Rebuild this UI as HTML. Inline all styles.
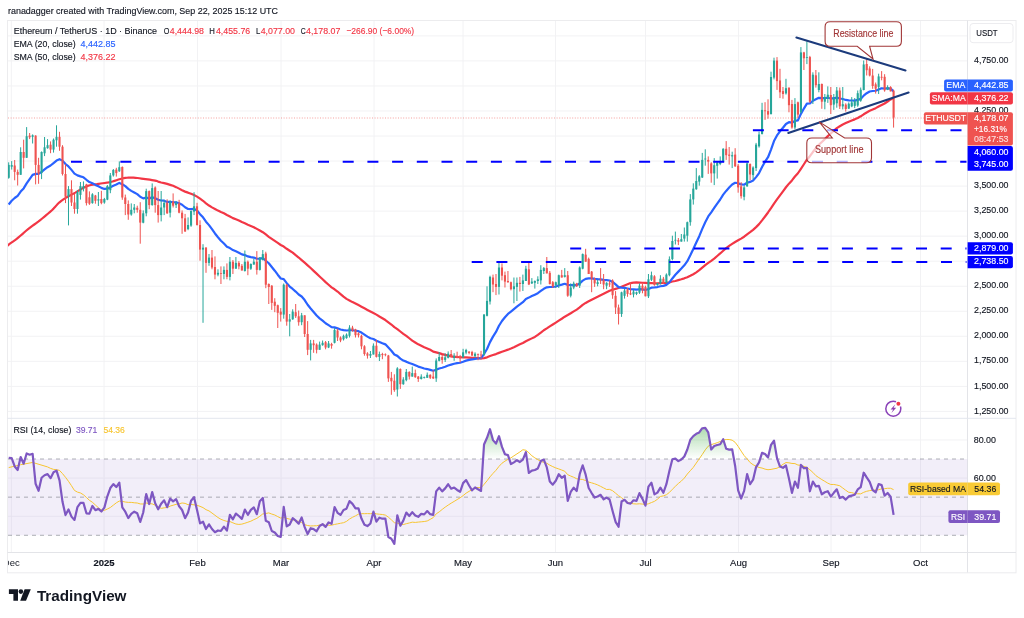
<!DOCTYPE html>
<html><head><meta charset="utf-8"><style>
html,body{margin:0;padding:0;background:#fff;}
body{width:1024px;height:618px;position:relative;overflow:hidden;font-family:"Liberation Sans", sans-serif;color:#131722;-webkit-font-smoothing:antialiased;}
svg{will-change:transform;}
.t{position:absolute;white-space:nowrap;font-size:9px;line-height:1;}
</style></head><body>
<svg width="1024" height="618" viewBox="0 0 1024 618" style="position:absolute;left:0;top:0">
<defs><clipPath id="cm"><rect x="8" y="21" width="959.5" height="397.3"/></clipPath><clipPath id="ct"><rect x="8" y="553" width="959" height="19"/></clipPath><clipPath id="cr"><rect x="8" y="418.8" width="959.5" height="133.2"/></clipPath></defs>
<line x1="11.3" y1="21" x2="11.3" y2="552.5" stroke="#f2f2f4" stroke-width="1"/>
<line x1="104" y1="21" x2="104" y2="552.5" stroke="#f2f2f4" stroke-width="1"/>
<line x1="197.5" y1="21" x2="197.5" y2="552.5" stroke="#f2f2f4" stroke-width="1"/>
<line x1="281" y1="21" x2="281" y2="552.5" stroke="#f2f2f4" stroke-width="1"/>
<line x1="374" y1="21" x2="374" y2="552.5" stroke="#f2f2f4" stroke-width="1"/>
<line x1="463" y1="21" x2="463" y2="552.5" stroke="#f2f2f4" stroke-width="1"/>
<line x1="555.5" y1="21" x2="555.5" y2="552.5" stroke="#f2f2f4" stroke-width="1"/>
<line x1="645.5" y1="21" x2="645.5" y2="552.5" stroke="#f2f2f4" stroke-width="1"/>
<line x1="738.5" y1="21" x2="738.5" y2="552.5" stroke="#f2f2f4" stroke-width="1"/>
<line x1="831" y1="21" x2="831" y2="552.5" stroke="#f2f2f4" stroke-width="1"/>
<line x1="920.5" y1="21" x2="920.5" y2="552.5" stroke="#f2f2f4" stroke-width="1"/>
<line x1="8" y1="411.39" x2="967.5" y2="411.39" stroke="#f2f2f4" stroke-width="1"/>
<line x1="8" y1="386.36" x2="967.5" y2="386.36" stroke="#f2f2f4" stroke-width="1"/>
<line x1="8" y1="361.32" x2="967.5" y2="361.32" stroke="#f2f2f4" stroke-width="1"/>
<line x1="8" y1="336.28" x2="967.5" y2="336.28" stroke="#f2f2f4" stroke-width="1"/>
<line x1="8" y1="311.25" x2="967.5" y2="311.25" stroke="#f2f2f4" stroke-width="1"/>
<line x1="8" y1="286.22" x2="967.5" y2="286.22" stroke="#f2f2f4" stroke-width="1"/>
<line x1="8" y1="261.18" x2="967.5" y2="261.18" stroke="#f2f2f4" stroke-width="1"/>
<line x1="8" y1="236.15" x2="967.5" y2="236.15" stroke="#f2f2f4" stroke-width="1"/>
<line x1="8" y1="211.11" x2="967.5" y2="211.11" stroke="#f2f2f4" stroke-width="1"/>
<line x1="8" y1="186.08" x2="967.5" y2="186.08" stroke="#f2f2f4" stroke-width="1"/>
<line x1="8" y1="161.04" x2="967.5" y2="161.04" stroke="#f2f2f4" stroke-width="1"/>
<line x1="8" y1="136" x2="967.5" y2="136" stroke="#f2f2f4" stroke-width="1"/>
<line x1="8" y1="110.97" x2="967.5" y2="110.97" stroke="#f2f2f4" stroke-width="1"/>
<line x1="8" y1="85.94" x2="967.5" y2="85.94" stroke="#f2f2f4" stroke-width="1"/>
<line x1="8" y1="60.9" x2="967.5" y2="60.9" stroke="#f2f2f4" stroke-width="1"/>
<line x1="8" y1="35.86" x2="967.5" y2="35.86" stroke="#f2f2f4" stroke-width="1"/>
<line x1="8" y1="516.22" x2="967.5" y2="516.22" stroke="#f2f2f4" stroke-width="1"/>
<line x1="8" y1="478.08" x2="967.5" y2="478.08" stroke="#f2f2f4" stroke-width="1"/>
<line x1="8" y1="439.94" x2="967.5" y2="439.94" stroke="#f2f2f4" stroke-width="1"/>
<rect x="7.5" y="20.5" width="1008.5" height="552.3" fill="none" stroke="#ececee" stroke-width="1"/>
<line x1="967.5" y1="20.5" x2="967.5" y2="572.5" stroke="#e3e4e8"/>
<line x1="7.5" y1="418.3" x2="1016" y2="418.3" stroke="#e3e6ee"/>
<line x1="7.5" y1="552.5" x2="1016" y2="552.5" stroke="#e3e4e8"/>
<g clip-path="url(#cm)">
<line x1="8" y1="118" x2="967.5" y2="118" stroke="#EF5350" stroke-width="1" stroke-dasharray="1 1.6" stroke-opacity="0.55"/>
<polyline fill="none" stroke="#F23645" stroke-width="2.2" stroke-linejoin="round" points="5,250.5 5.25,249.95 5.53,249.2 5.9,248.3 6.39,247.31 7.04,246.3 7.9,245.3 8.99,244.34 10.29,243.39 11.75,242.4 13.33,241.34 15,240.19 16.7,238.9 18.48,237.43 20.38,235.79 22.36,234.05 24.39,232.28 26.41,230.54 28.4,228.9 30.36,227.38 32.33,225.92 34.3,224.49 36.27,223.07 38.24,221.62 40.2,220.1 42.18,218.51 44.19,216.86 46.2,215.19 48.17,213.5 50.08,211.83 51.9,210.2 53.55,208.59 55.03,206.99 56.46,205.39 57.91,203.83 59.49,202.29 61.3,200.8 63.39,199.34 65.71,197.91 68.16,196.52 70.63,195.16 73.05,193.85 75.3,192.6 77.38,191.37 79.37,190.15 81.29,188.98 83.18,187.89 85.07,186.92 87,186.1 88.96,185.47 90.93,185 92.9,184.66 94.87,184.37 96.84,184.11 98.8,183.8 100.76,183.49 102.71,183.23 104.66,182.98 106.6,182.71 108.55,182.39 110.5,182 112.48,181.48 114.48,180.86 116.49,180.19 118.46,179.54 120.38,178.95 122.2,178.5 123.89,178.18 125.45,177.93 126.95,177.76 128.45,177.65 130.01,177.6 131.7,177.6 133.52,177.67 135.43,177.82 137.41,178.03 139.41,178.28 141.42,178.54 143.4,178.8 145.46,179.07 147.65,179.39 149.84,179.71 151.91,180.04 153.73,180.34 155.19,180.6 156.23,180.83 156.94,181.04 157.42,181.22 157.73,181.38 157.95,181.51 158.17,181.61 161.16,182.46 164.15,183.07 167.14,183.84 170.13,184.84 173.12,185.79 176.11,187.13 179.1,188.63 182.09,190.29 185.08,191.62 188.07,192.65 191.06,193.83 194.05,195.01 197.04,196.61 200.03,198.61 203.02,200.77 206.01,203.29 209,205.51 211.99,207.38 214.98,208.93 217.97,210.61 220.95,212.03 223.94,213.25 226.93,214.95 229.92,216.46 232.91,218.11 235.9,219.31 238.89,220.56 241.88,222.09 244.87,223.31 247.86,224.69 250.85,225.91 253.84,227.17 256.83,228.84 259.82,230.49 262.81,232.17 265.8,234.4 268.79,236.8 271.78,238.9 274.77,240.94 277.75,242.91 280.74,245 283.73,246.55 286.72,248.78 289.71,250.72 292.7,252.68 295.69,255.19 298.68,257.53 301.67,260.07 304.66,262.65 307.65,265.34 310.64,268.06 313.63,270.91 316.62,273.64 319.61,276.5 322.6,279.24 325.59,282.14 328.58,284.75 331.57,287.3 334.56,289.27 337.55,291.52 340.53,294.11 343.52,296.7 346.51,298.89 349.5,300.45 352.49,302.11 355.48,303.55 358.47,305.1 361.46,306.68 364.45,308.27 367.44,309.93 370.43,311.53 373.42,313.05 376.41,314.65 379.4,316.49 382.39,318.22 385.38,320.06 388.37,322.3 391.36,324.52 394.35,327.09 397.33,329.08 400.32,331.49 403.31,333.84 406.3,335.88 409.29,338.26 412.28,340.64 415.27,342.49 418.26,344.33 421.25,345.81 424.24,347.23 427.23,348.47 430.22,349.74 433.21,351.61 436.2,352.39 439.19,353.14 442.18,354.11 445.17,354.93 448.16,355.56 451.15,356.39 454.14,356.82 457.12,356.97 460.11,357.27 463.1,357.42 466.09,357.42 469.08,357.59 472.07,357.84 475.06,357.96 478.05,358.19 481.04,358.38 484.03,358.08 487.02,357.34 490.01,356.07 493,355.05 495.99,354.09 498.98,352.89 501.97,351.79 504.96,350.72 507.95,349.66 510.94,348.52 513.93,347.17 516.92,345.71 519.9,344.31 522.89,343 525.88,341.24 528.87,339.85 531.86,338.38 534.85,336.9 537.84,334.91 540.83,332.69 543.82,330.25 546.81,328.35 549.8,326.34 552.79,324.48 555.78,322.68 558.77,320.66 561.76,318.74 564.75,316.7 567.74,315.04 570.73,313.26 573.72,311.38 576.71,309.61 579.69,307.4 582.68,304.92 585.67,302.94 588.66,301.28 591.65,299.66 594.64,298.18 597.63,296.75 600.62,295.22 603.61,293.8 606.6,292.31 609.59,290.83 612.58,289.69 615.57,288.84 618.56,288.06 621.55,286.8 624.54,285.53 627.53,284.32 630.52,283.1 633.51,282.64 636.5,282.47 639.48,282.64 642.47,282.76 645.46,282.95 648.45,283.18 651.44,283.17 654.43,283.24 657.42,283.27 660.41,283.06 663.4,282.99 666.39,282.82 669.38,282.33 672.37,281.54 675.36,280.96 678.35,280.11 681.34,279.26 684.33,278.33 687.32,277.19 690.31,275.78 693.3,274.19 696.29,272.34 699.27,270.18 702.26,267.66 705.25,265.19 708.24,262.91 711.23,260.83 714.22,258.63 717.21,255.97 720.2,253.45 723.19,250.75 726.18,248.13 729.17,245.9 732.16,243.92 735.15,242.01 738.14,240.28 741.13,238.63 744.12,236.71 747.11,234.33 750.1,232.22 753.09,229.88 756.08,227.11 759.06,224.11 762.05,220.41 765.04,216.48 768.03,212.49 771.02,208.18 774.01,203.59 777,199.33 779.99,195.29 782.98,191.33 785.97,187.25 788.96,183.64 791.95,180.39 794.94,176.54 797.93,173.25 800.92,168.79 803.91,164.26 806.9,159.73 809.89,156.19 812.88,152.03 815.87,148.24 818.85,144.73 821.84,141.95 824.83,139.09 827.82,136.15 830.81,133.47 833.8,130.74 836.79,128.1 839.78,126.24 842.77,124.55 845.76,123.11 848.75,121.66 851.74,120.51 854.73,119.36 857.72,117.99 860.71,116.32 863.7,114.3 866.69,112.45 869.68,110.74 872.67,109.48 875.66,108.15 878.64,106.57 881.63,105.02 884.62,103.5 887.61,101.49 890.6,99.39 893.59,98"/>
<polyline fill="none" stroke="#2962FF" stroke-width="2.2" stroke-linejoin="round" points="8.7,204.5 11.69,200.75 14.68,198 17.67,195.79 20.66,191.62 23.65,188.4 26.64,183.43 29.63,179.03 32.62,174.87 35.61,173.92 38.59,173.9 41.58,171.81 44.57,169.48 47.56,167.17 50.55,165.49 53.54,163.04 56.53,160.54 59.52,159.22 62.51,160.63 65.5,164.06 68.49,166.45 71.48,169.88 74.47,173.61 77.46,175.36 80.45,176.38 83.44,177.31 86.43,179.76 89.42,182.04 92.41,183.21 95.4,184.89 98.39,186.26 101.37,187.86 104.36,188.92 107.35,188.65 110.34,187.39 113.33,185.74 116.32,184.53 119.31,182.88 122.3,184.27 125.29,186.15 128.28,188.85 131.27,190.85 134.26,192.43 137.25,194.09 140.24,196.8 143.23,198.37 146.22,197.68 149.21,198.39 152.2,197.41 155.19,198.14 158.17,199.76 161.16,200.49 164.15,200.71 167.14,201.91 170.13,201.88 173.12,202.25 176.11,202.3 179.1,203.29 182.09,204.72 185.08,207.26 188.07,208.95 191.06,209.14 194.05,208.87 197.04,210.41 200.03,214.14 203.02,217.34 206.01,221.68 209,225.1 211.99,229.14 214.98,233.47 217.97,237.21 220.95,240.7 223.94,243.48 226.93,246.66 229.92,248.09 232.91,250.06 235.9,251.28 238.89,252.72 241.88,254.41 244.87,255.11 247.86,256.4 250.85,257.13 253.84,257.56 256.83,258.74 259.82,258.63 262.81,258.2 265.8,260.72 268.79,263.22 271.78,267 274.77,270.7 277.75,274.71 280.74,278.51 283.73,279.1 286.72,283.14 289.71,286.59 292.7,288.97 295.69,291.57 298.68,294.49 301.67,296.47 304.66,300.05 307.65,304.78 310.64,308.46 313.63,311.96 316.62,315.56 319.61,318.33 322.6,320.66 325.59,323.22 328.58,325.14 331.57,327.1 334.56,327.36 337.55,328.33 340.53,329.49 343.52,330.09 346.51,330.52 349.5,330.24 352.49,330.27 355.48,330.74 358.47,331.16 361.46,332.6 364.45,334.64 367.44,336.65 370.43,338.3 373.42,339 376.41,340.71 379.4,341.97 382.39,343.22 385.38,344.36 388.37,347.6 391.36,350.81 394.35,354.55 397.33,355.87 400.32,358.57 403.31,360.56 406.3,361.64 409.29,363.07 412.28,364.02 415.27,365.28 418.26,366.58 421.25,367.54 424.24,368.46 427.23,369.06 430.22,369.89 433.21,370.7 436.2,369.73 439.19,368.52 442.18,367.7 445.17,366.71 448.16,365.47 451.15,364.63 454.14,363.79 457.12,363.17 460.11,362.72 463.1,361.73 466.09,360.61 469.08,359.88 472.07,359.46 475.06,358.91 478.05,358.5 481.04,358.21 484.03,354.05 487.02,348.99 490.01,342.12 493,336.64 495.99,331.9 498.98,325.77 501.97,321 504.96,317.25 507.95,313.91 510.94,311.55 513.93,309.15 516.92,306.64 519.9,304.48 522.89,302.19 525.88,299 528.87,297.62 531.86,296.09 534.85,294.66 537.84,293.19 540.83,290.98 543.82,288.8 546.81,287.33 549.8,287.01 552.79,286.95 555.78,286.49 558.77,285.42 561.76,284.66 564.75,283.76 567.74,284.9 570.73,285.15 573.72,284.98 576.71,285.11 579.69,283.43 582.68,280.64 585.67,278.83 588.66,278.37 591.65,278.4 594.64,278.88 597.63,279.2 600.62,279.31 603.61,279.8 606.6,280.09 609.59,280.51 612.58,281.91 615.57,284.35 618.56,287.17 621.55,287.66 624.54,287.93 627.53,288.5 630.52,289.07 633.51,289.31 636.5,289.59 639.48,289.22 642.47,289.33 645.46,289.99 648.45,288.97 651.44,287.66 654.43,287.42 657.42,287.04 660.41,286.24 663.4,285.91 666.39,284.84 669.38,282.4 672.37,278.46 675.36,274.78 678.35,271.62 681.34,268.53 684.33,265.29 687.32,261.19 690.31,255.3 693.3,248.95 696.29,242.48 699.27,236.18 702.26,228.91 705.25,222.22 708.24,216.45 711.23,212.35 714.22,207.86 717.21,203.57 720.2,199.52 723.19,194.69 726.18,190.93 729.17,187.59 732.16,184.5 735.15,182.77 738.14,183.21 741.13,184.45 744.12,184.73 747.11,182.7 750.1,181.92 753.09,180.54 756.08,177.12 759.06,173.06 762.05,167.05 765.04,161.72 768.03,157.23 771.02,149.59 774.01,141.11 777,135.4 779.99,131.29 782.98,127.74 785.97,123.98 788.96,122.19 791.95,122.69 794.94,120.92 797.93,120.32 800.92,113.85 803.91,108.56 806.9,103.66 809.89,103.47 812.88,100.73 815.87,99.25 818.85,97.8 821.84,98.17 824.83,98.06 827.82,97.74 830.81,98.45 833.8,98.37 836.79,97.62 839.78,98.46 842.77,99 845.76,99.96 848.75,100.31 851.74,100.51 854.73,100.57 857.72,99.87 860.71,98.9 863.7,95.62 866.69,93.2 869.68,91.51 872.67,90.99 875.66,90.77 878.64,89.4 881.63,88.29 884.62,88.49 887.61,88.35 890.6,88.64 893.59,91.39"/>
<line x1="8.7" y1="162.3" x2="8.7" y2="178.7" stroke="#26A69A" stroke-width="1"/>
<rect x="7.65" y="164.9" width="2.1" height="12.9" fill="#26A69A"/>
<line x1="11.69" y1="161.1" x2="11.69" y2="169.6" stroke="#26A69A" stroke-width="1"/>
<rect x="10.64" y="165.1" width="2.1" height="1.6" fill="#26A69A"/>
<line x1="14.68" y1="160" x2="14.68" y2="180.3" stroke="#EF5350" stroke-width="1"/>
<rect x="13.63" y="165.5" width="2.1" height="6.4" fill="#EF5350"/>
<line x1="17.67" y1="169.6" x2="17.67" y2="185.5" stroke="#EF5350" stroke-width="1"/>
<rect x="16.62" y="171.9" width="2.1" height="2.9" fill="#EF5350"/>
<line x1="20.66" y1="147.3" x2="20.66" y2="174.8" stroke="#26A69A" stroke-width="1"/>
<rect x="19.61" y="152" width="2.1" height="22.8" fill="#26A69A"/>
<line x1="23.65" y1="139.7" x2="23.65" y2="168.4" stroke="#EF5350" stroke-width="1"/>
<rect x="22.6" y="152" width="2.1" height="5.8" fill="#EF5350"/>
<line x1="26.64" y1="127.1" x2="26.64" y2="157.8" stroke="#26A69A" stroke-width="1"/>
<rect x="25.59" y="136.2" width="2.1" height="21.6" fill="#26A69A"/>
<line x1="29.63" y1="133" x2="29.63" y2="139.1" stroke="#EF5350" stroke-width="1"/>
<rect x="28.58" y="135.6" width="2.1" height="1.7" fill="#EF5350"/>
<line x1="32.62" y1="134.4" x2="32.62" y2="143.5" stroke="#26A69A" stroke-width="1"/>
<rect x="31.57" y="135.3" width="2.1" height="1.5" fill="#26A69A"/>
<line x1="35.61" y1="135.3" x2="35.61" y2="184.4" stroke="#EF5350" stroke-width="1"/>
<rect x="34.56" y="135.6" width="2.1" height="29.3" fill="#EF5350"/>
<line x1="38.59" y1="157.8" x2="38.59" y2="183.8" stroke="#EF5350" stroke-width="1"/>
<rect x="37.55" y="164.9" width="2.1" height="8.8" fill="#EF5350"/>
<line x1="41.58" y1="151.4" x2="41.58" y2="179.1" stroke="#26A69A" stroke-width="1"/>
<rect x="40.53" y="152" width="2.1" height="21.1" fill="#26A69A"/>
<line x1="44.57" y1="137" x2="44.57" y2="156.1" stroke="#26A69A" stroke-width="1"/>
<rect x="43.52" y="147.3" width="2.1" height="6" fill="#26A69A"/>
<line x1="47.56" y1="139.1" x2="47.56" y2="148.7" stroke="#26A69A" stroke-width="1"/>
<rect x="46.51" y="145.2" width="2.1" height="3" fill="#26A69A"/>
<line x1="50.55" y1="141.4" x2="50.55" y2="153.2" stroke="#EF5350" stroke-width="1"/>
<rect x="49.5" y="144.7" width="2.1" height="4.9" fill="#EF5350"/>
<line x1="53.54" y1="138.5" x2="53.54" y2="152.6" stroke="#26A69A" stroke-width="1"/>
<rect x="52.49" y="139.7" width="2.1" height="9.9" fill="#26A69A"/>
<line x1="56.53" y1="125.3" x2="56.53" y2="146.7" stroke="#26A69A" stroke-width="1"/>
<rect x="55.48" y="136.8" width="2.1" height="3.5" fill="#26A69A"/>
<line x1="59.52" y1="131.8" x2="59.52" y2="150.8" stroke="#EF5350" stroke-width="1"/>
<rect x="58.47" y="136.8" width="2.1" height="9.9" fill="#EF5350"/>
<line x1="62.51" y1="145.2" x2="62.51" y2="175.5" stroke="#EF5350" stroke-width="1"/>
<rect x="61.46" y="146.7" width="2.1" height="27.3" fill="#EF5350"/>
<line x1="65.5" y1="164.3" x2="65.5" y2="203.1" stroke="#EF5350" stroke-width="1"/>
<rect x="64.45" y="174" width="2.1" height="22.7" fill="#EF5350"/>
<line x1="68.49" y1="186.1" x2="68.49" y2="225.4" stroke="#26A69A" stroke-width="1"/>
<rect x="67.44" y="189.1" width="2.1" height="7" fill="#26A69A"/>
<line x1="71.48" y1="180.3" x2="71.48" y2="206" stroke="#EF5350" stroke-width="1"/>
<rect x="70.43" y="189.1" width="2.1" height="13.4" fill="#EF5350"/>
<line x1="74.47" y1="193.8" x2="74.47" y2="213.7" stroke="#EF5350" stroke-width="1"/>
<rect x="73.42" y="202.5" width="2.1" height="6.5" fill="#EF5350"/>
<line x1="77.46" y1="190.2" x2="77.46" y2="213.7" stroke="#26A69A" stroke-width="1"/>
<rect x="76.41" y="192" width="2.1" height="17" fill="#26A69A"/>
<line x1="80.45" y1="182" x2="80.45" y2="199.6" stroke="#26A69A" stroke-width="1"/>
<rect x="79.4" y="186.1" width="2.1" height="8.8" fill="#26A69A"/>
<line x1="83.44" y1="181.4" x2="83.44" y2="191.4" stroke="#26A69A" stroke-width="1"/>
<rect x="82.39" y="186.1" width="2.1" height="2.4" fill="#26A69A"/>
<line x1="86.43" y1="183.8" x2="86.43" y2="205.5" stroke="#EF5350" stroke-width="1"/>
<rect x="85.38" y="184.4" width="2.1" height="18.7" fill="#EF5350"/>
<line x1="89.42" y1="191.4" x2="89.42" y2="204.9" stroke="#EF5350" stroke-width="1"/>
<rect x="88.37" y="197.3" width="2.1" height="6.4" fill="#EF5350"/>
<line x1="92.41" y1="193.2" x2="92.41" y2="203.7" stroke="#26A69A" stroke-width="1"/>
<rect x="91.36" y="194.3" width="2.1" height="8.8" fill="#26A69A"/>
<line x1="95.4" y1="194.9" x2="95.4" y2="203.7" stroke="#EF5350" stroke-width="1"/>
<rect x="94.35" y="195.5" width="2.1" height="5.3" fill="#EF5350"/>
<line x1="98.39" y1="192" x2="98.39" y2="206" stroke="#26A69A" stroke-width="1"/>
<rect x="97.34" y="199.3" width="2.1" height="1.2" fill="#26A69A"/>
<line x1="101.37" y1="190.8" x2="101.37" y2="204.3" stroke="#EF5350" stroke-width="1"/>
<rect x="100.32" y="199" width="2.1" height="4.1" fill="#EF5350"/>
<line x1="104.36" y1="197.9" x2="104.36" y2="203.7" stroke="#26A69A" stroke-width="1"/>
<rect x="103.31" y="199" width="2.1" height="3.5" fill="#26A69A"/>
<line x1="107.35" y1="185" x2="107.35" y2="200.2" stroke="#26A69A" stroke-width="1"/>
<rect x="106.3" y="186.1" width="2.1" height="13.5" fill="#26A69A"/>
<line x1="110.34" y1="173" x2="110.34" y2="193.2" stroke="#26A69A" stroke-width="1"/>
<rect x="109.29" y="175.4" width="2.1" height="14.8" fill="#26A69A"/>
<line x1="113.33" y1="169" x2="113.33" y2="176.6" stroke="#26A69A" stroke-width="1"/>
<rect x="112.28" y="170" width="2.1" height="5.4" fill="#26A69A"/>
<line x1="116.32" y1="167.8" x2="116.32" y2="176.6" stroke="#EF5350" stroke-width="1"/>
<rect x="115.27" y="169.6" width="2.1" height="3.5" fill="#EF5350"/>
<line x1="119.31" y1="161.4" x2="119.31" y2="171.9" stroke="#26A69A" stroke-width="1"/>
<rect x="118.26" y="167.2" width="2.1" height="4.1" fill="#26A69A"/>
<line x1="122.3" y1="166.4" x2="122.3" y2="199.8" stroke="#EF5350" stroke-width="1"/>
<rect x="121.25" y="167" width="2.1" height="30.5" fill="#EF5350"/>
<line x1="125.29" y1="194.6" x2="125.29" y2="215.1" stroke="#EF5350" stroke-width="1"/>
<rect x="124.24" y="197.5" width="2.1" height="6.5" fill="#EF5350"/>
<line x1="128.28" y1="200.4" x2="128.28" y2="219.8" stroke="#EF5350" stroke-width="1"/>
<rect x="127.23" y="204" width="2.1" height="10.5" fill="#EF5350"/>
<line x1="131.27" y1="203.4" x2="131.27" y2="215.7" stroke="#26A69A" stroke-width="1"/>
<rect x="130.22" y="209.8" width="2.1" height="4.7" fill="#26A69A"/>
<line x1="134.26" y1="204" x2="134.26" y2="213.3" stroke="#26A69A" stroke-width="1"/>
<rect x="133.21" y="207.5" width="2.1" height="2.3" fill="#26A69A"/>
<line x1="137.25" y1="205.7" x2="137.25" y2="212.7" stroke="#EF5350" stroke-width="1"/>
<rect x="136.2" y="207.8" width="2.1" height="2" fill="#EF5350"/>
<line x1="140.24" y1="202.2" x2="140.24" y2="243.7" stroke="#EF5350" stroke-width="1"/>
<rect x="139.19" y="209.8" width="2.1" height="12.8" fill="#EF5350"/>
<line x1="143.23" y1="210.4" x2="143.23" y2="223.3" stroke="#26A69A" stroke-width="1"/>
<rect x="142.18" y="213.3" width="2.1" height="9.4" fill="#26A69A"/>
<line x1="146.22" y1="188.7" x2="146.22" y2="216.3" stroke="#26A69A" stroke-width="1"/>
<rect x="145.17" y="191.1" width="2.1" height="22.2" fill="#26A69A"/>
<line x1="149.21" y1="190.5" x2="149.21" y2="209.2" stroke="#EF5350" stroke-width="1"/>
<rect x="148.16" y="191.1" width="2.1" height="14" fill="#EF5350"/>
<line x1="152.2" y1="183.4" x2="152.2" y2="205.7" stroke="#26A69A" stroke-width="1"/>
<rect x="151.15" y="188.1" width="2.1" height="17" fill="#26A69A"/>
<line x1="155.19" y1="186.4" x2="155.19" y2="212.7" stroke="#EF5350" stroke-width="1"/>
<rect x="154.14" y="187.5" width="2.1" height="17.6" fill="#EF5350"/>
<line x1="158.17" y1="191" x2="158.17" y2="222.6" stroke="#EF5350" stroke-width="1"/>
<rect x="157.12" y="205.1" width="2.1" height="10" fill="#EF5350"/>
<line x1="161.16" y1="191" x2="161.16" y2="221.4" stroke="#26A69A" stroke-width="1"/>
<rect x="160.11" y="207.5" width="2.1" height="7.6" fill="#26A69A"/>
<line x1="164.15" y1="199.8" x2="164.15" y2="215.1" stroke="#26A69A" stroke-width="1"/>
<rect x="163.1" y="202.8" width="2.1" height="4.7" fill="#26A69A"/>
<line x1="167.14" y1="199.3" x2="167.14" y2="213.9" stroke="#EF5350" stroke-width="1"/>
<rect x="166.09" y="202.8" width="2.1" height="10.5" fill="#EF5350"/>
<line x1="170.13" y1="200.4" x2="170.13" y2="217.4" stroke="#26A69A" stroke-width="1"/>
<rect x="169.08" y="201.6" width="2.1" height="11.1" fill="#26A69A"/>
<line x1="173.12" y1="193.4" x2="173.12" y2="207.5" stroke="#EF5350" stroke-width="1"/>
<rect x="172.07" y="201.6" width="2.1" height="4.1" fill="#EF5350"/>
<line x1="176.11" y1="201" x2="176.11" y2="208" stroke="#26A69A" stroke-width="1"/>
<rect x="175.06" y="202.8" width="2.1" height="2.3" fill="#26A69A"/>
<line x1="179.1" y1="199.8" x2="179.1" y2="213.3" stroke="#EF5350" stroke-width="1"/>
<rect x="178.05" y="203.4" width="2.1" height="9.3" fill="#EF5350"/>
<line x1="182.09" y1="210.4" x2="182.09" y2="233.8" stroke="#EF5350" stroke-width="1"/>
<rect x="181.04" y="212.7" width="2.1" height="5.6" fill="#EF5350"/>
<line x1="185.08" y1="213.9" x2="185.08" y2="232" stroke="#EF5350" stroke-width="1"/>
<rect x="184.03" y="218.3" width="2.1" height="13.1" fill="#EF5350"/>
<line x1="188.07" y1="217.4" x2="188.07" y2="230.2" stroke="#26A69A" stroke-width="1"/>
<rect x="187.02" y="225" width="2.1" height="4.1" fill="#26A69A"/>
<line x1="191.06" y1="210.4" x2="191.06" y2="226.8" stroke="#26A69A" stroke-width="1"/>
<rect x="190.01" y="211" width="2.1" height="14.6" fill="#26A69A"/>
<line x1="194.05" y1="192.2" x2="194.05" y2="215.1" stroke="#26A69A" stroke-width="1"/>
<rect x="193" y="206.3" width="2.1" height="5.3" fill="#26A69A"/>
<line x1="197.04" y1="202.8" x2="197.04" y2="225.6" stroke="#EF5350" stroke-width="1"/>
<rect x="195.99" y="206.3" width="2.1" height="18.7" fill="#EF5350"/>
<line x1="200.03" y1="220.3" x2="200.03" y2="260.7" stroke="#EF5350" stroke-width="1"/>
<rect x="198.98" y="225" width="2.1" height="24.6" fill="#EF5350"/>
<line x1="203.02" y1="244.2" x2="203.02" y2="322.8" stroke="#26A69A" stroke-width="1"/>
<rect x="201.97" y="247.7" width="2.1" height="1.9" fill="#26A69A"/>
<line x1="206.01" y1="247" x2="206.01" y2="272.8" stroke="#EF5350" stroke-width="1"/>
<rect x="204.96" y="247.7" width="2.1" height="15.2" fill="#EF5350"/>
<line x1="209" y1="254" x2="209" y2="265.8" stroke="#26A69A" stroke-width="1"/>
<rect x="207.95" y="257.6" width="2.1" height="5.3" fill="#26A69A"/>
<line x1="211.99" y1="250" x2="211.99" y2="269.3" stroke="#EF5350" stroke-width="1"/>
<rect x="210.94" y="257.6" width="2.1" height="9.9" fill="#EF5350"/>
<line x1="214.98" y1="256.4" x2="214.98" y2="279.3" stroke="#EF5350" stroke-width="1"/>
<rect x="213.93" y="267" width="2.1" height="7.6" fill="#EF5350"/>
<line x1="217.97" y1="269.3" x2="217.97" y2="276.3" stroke="#26A69A" stroke-width="1"/>
<rect x="216.91" y="272.8" width="2.1" height="1.8" fill="#26A69A"/>
<line x1="220.95" y1="266.4" x2="220.95" y2="284" stroke="#EF5350" stroke-width="1"/>
<rect x="219.9" y="273.1" width="2.1" height="0.8" fill="#EF5350"/>
<line x1="223.94" y1="266.4" x2="223.94" y2="279.3" stroke="#26A69A" stroke-width="1"/>
<rect x="222.89" y="269.9" width="2.1" height="4.1" fill="#26A69A"/>
<line x1="226.93" y1="263.4" x2="226.93" y2="279.3" stroke="#EF5350" stroke-width="1"/>
<rect x="225.88" y="269.9" width="2.1" height="7" fill="#EF5350"/>
<line x1="229.92" y1="257" x2="229.92" y2="280.4" stroke="#26A69A" stroke-width="1"/>
<rect x="228.87" y="261.7" width="2.1" height="15.2" fill="#26A69A"/>
<line x1="232.91" y1="260" x2="232.91" y2="274" stroke="#EF5350" stroke-width="1"/>
<rect x="231.86" y="261.7" width="2.1" height="7" fill="#EF5350"/>
<line x1="235.9" y1="257" x2="235.9" y2="268.7" stroke="#26A69A" stroke-width="1"/>
<rect x="234.85" y="262.9" width="2.1" height="5.8" fill="#26A69A"/>
<line x1="238.89" y1="261.1" x2="238.89" y2="269.3" stroke="#EF5350" stroke-width="1"/>
<rect x="237.84" y="262.9" width="2.1" height="3.5" fill="#EF5350"/>
<line x1="241.88" y1="264" x2="241.88" y2="270.5" stroke="#EF5350" stroke-width="1"/>
<rect x="240.83" y="265.8" width="2.1" height="4.7" fill="#EF5350"/>
<line x1="244.87" y1="250.5" x2="244.87" y2="271.6" stroke="#26A69A" stroke-width="1"/>
<rect x="243.82" y="261.7" width="2.1" height="9.3" fill="#26A69A"/>
<line x1="247.86" y1="260.5" x2="247.86" y2="275.2" stroke="#EF5350" stroke-width="1"/>
<rect x="246.81" y="261.7" width="2.1" height="7" fill="#EF5350"/>
<line x1="250.85" y1="263.4" x2="250.85" y2="269.9" stroke="#26A69A" stroke-width="1"/>
<rect x="249.8" y="264" width="2.1" height="4.7" fill="#26A69A"/>
<line x1="253.84" y1="258.8" x2="253.84" y2="264.6" stroke="#26A69A" stroke-width="1"/>
<rect x="252.79" y="261.7" width="2.1" height="2.9" fill="#26A69A"/>
<line x1="256.83" y1="251.1" x2="256.83" y2="274.6" stroke="#EF5350" stroke-width="1"/>
<rect x="255.78" y="261.7" width="2.1" height="8.2" fill="#EF5350"/>
<line x1="259.82" y1="257" x2="259.82" y2="270.5" stroke="#26A69A" stroke-width="1"/>
<rect x="258.77" y="257.6" width="2.1" height="12.3" fill="#26A69A"/>
<line x1="262.81" y1="250" x2="262.81" y2="260.5" stroke="#26A69A" stroke-width="1"/>
<rect x="261.76" y="254.1" width="2.1" height="5.8" fill="#26A69A"/>
<line x1="265.8" y1="251.7" x2="265.8" y2="288.2" stroke="#EF5350" stroke-width="1"/>
<rect x="264.75" y="253.5" width="2.1" height="31.2" fill="#EF5350"/>
<line x1="268.79" y1="283.4" x2="268.79" y2="304" stroke="#EF5350" stroke-width="1"/>
<rect x="267.74" y="284" width="2.1" height="3" fill="#EF5350"/>
<line x1="271.78" y1="285.1" x2="271.78" y2="309.9" stroke="#EF5350" stroke-width="1"/>
<rect x="270.73" y="285.7" width="2.1" height="17.2" fill="#EF5350"/>
<line x1="274.77" y1="298.2" x2="274.77" y2="312.2" stroke="#EF5350" stroke-width="1"/>
<rect x="273.72" y="301.7" width="2.1" height="4.1" fill="#EF5350"/>
<line x1="277.75" y1="304.6" x2="277.75" y2="328" stroke="#EF5350" stroke-width="1"/>
<rect x="276.7" y="305.2" width="2.1" height="7.6" fill="#EF5350"/>
<line x1="280.74" y1="308.1" x2="280.74" y2="321.6" stroke="#EF5350" stroke-width="1"/>
<rect x="279.69" y="311.6" width="2.1" height="3" fill="#EF5350"/>
<line x1="283.73" y1="283.5" x2="283.73" y2="318.7" stroke="#26A69A" stroke-width="1"/>
<rect x="282.68" y="284.7" width="2.1" height="29.9" fill="#26A69A"/>
<line x1="286.72" y1="284.1" x2="286.72" y2="325.7" stroke="#EF5350" stroke-width="1"/>
<rect x="285.67" y="284.7" width="2.1" height="36.9" fill="#EF5350"/>
<line x1="289.71" y1="314" x2="289.71" y2="336.3" stroke="#26A69A" stroke-width="1"/>
<rect x="288.66" y="319.3" width="2.1" height="2.3" fill="#26A69A"/>
<line x1="292.7" y1="309.3" x2="292.7" y2="319.8" stroke="#26A69A" stroke-width="1"/>
<rect x="291.65" y="311.6" width="2.1" height="7.7" fill="#26A69A"/>
<line x1="295.69" y1="304" x2="295.69" y2="318" stroke="#EF5350" stroke-width="1"/>
<rect x="294.64" y="312.2" width="2.1" height="4.1" fill="#EF5350"/>
<line x1="298.68" y1="310.5" x2="298.68" y2="325.7" stroke="#EF5350" stroke-width="1"/>
<rect x="297.63" y="316.3" width="2.1" height="5.9" fill="#EF5350"/>
<line x1="301.67" y1="312.9" x2="301.67" y2="325.2" stroke="#26A69A" stroke-width="1"/>
<rect x="300.62" y="315.3" width="2.1" height="6.9" fill="#26A69A"/>
<line x1="304.66" y1="315.3" x2="304.66" y2="337" stroke="#EF5350" stroke-width="1"/>
<rect x="303.61" y="315.3" width="2.1" height="18.7" fill="#EF5350"/>
<line x1="307.65" y1="321.1" x2="307.65" y2="355.1" stroke="#EF5350" stroke-width="1"/>
<rect x="306.6" y="334" width="2.1" height="15.8" fill="#EF5350"/>
<line x1="310.64" y1="339.9" x2="310.64" y2="360.4" stroke="#26A69A" stroke-width="1"/>
<rect x="309.59" y="343.4" width="2.1" height="6.4" fill="#26A69A"/>
<line x1="313.63" y1="339.9" x2="313.63" y2="352.8" stroke="#EF5350" stroke-width="1"/>
<rect x="312.58" y="343.4" width="2.1" height="1.8" fill="#EF5350"/>
<line x1="316.62" y1="343.4" x2="316.62" y2="353.4" stroke="#EF5350" stroke-width="1"/>
<rect x="315.57" y="344.6" width="2.1" height="5.2" fill="#EF5350"/>
<line x1="319.61" y1="341.6" x2="319.61" y2="349.8" stroke="#26A69A" stroke-width="1"/>
<rect x="318.56" y="344.6" width="2.1" height="5.2" fill="#26A69A"/>
<line x1="322.6" y1="340.5" x2="322.6" y2="345.7" stroke="#26A69A" stroke-width="1"/>
<rect x="321.55" y="342.8" width="2.1" height="2.4" fill="#26A69A"/>
<line x1="325.59" y1="341" x2="325.59" y2="349.3" stroke="#EF5350" stroke-width="1"/>
<rect x="324.54" y="342.2" width="2.1" height="5.3" fill="#EF5350"/>
<line x1="328.58" y1="341" x2="328.58" y2="348.1" stroke="#26A69A" stroke-width="1"/>
<rect x="327.53" y="343.4" width="2.1" height="4.1" fill="#26A69A"/>
<line x1="331.57" y1="342.8" x2="331.57" y2="348.7" stroke="#EF5350" stroke-width="1"/>
<rect x="330.52" y="344" width="2.1" height="1.7" fill="#EF5350"/>
<line x1="334.56" y1="328.2" x2="334.56" y2="343.4" stroke="#26A69A" stroke-width="1"/>
<rect x="333.51" y="329.9" width="2.1" height="12.9" fill="#26A69A"/>
<line x1="337.55" y1="328.8" x2="337.55" y2="341" stroke="#EF5350" stroke-width="1"/>
<rect x="336.5" y="330.5" width="2.1" height="7" fill="#EF5350"/>
<line x1="340.53" y1="336.4" x2="340.53" y2="342.2" stroke="#EF5350" stroke-width="1"/>
<rect x="339.48" y="337.5" width="2.1" height="3" fill="#EF5350"/>
<line x1="343.52" y1="334.6" x2="343.52" y2="340.5" stroke="#26A69A" stroke-width="1"/>
<rect x="342.47" y="335.8" width="2.1" height="3.5" fill="#26A69A"/>
<line x1="346.51" y1="333.4" x2="346.51" y2="338.7" stroke="#26A69A" stroke-width="1"/>
<rect x="345.46" y="334.6" width="2.1" height="3.5" fill="#26A69A"/>
<line x1="349.5" y1="325.2" x2="349.5" y2="337.5" stroke="#26A69A" stroke-width="1"/>
<rect x="348.45" y="327.6" width="2.1" height="8.2" fill="#26A69A"/>
<line x1="352.49" y1="325.8" x2="352.49" y2="331.7" stroke="#EF5350" stroke-width="1"/>
<rect x="351.44" y="327.6" width="2.1" height="2.9" fill="#EF5350"/>
<line x1="355.48" y1="328.8" x2="355.48" y2="337.5" stroke="#EF5350" stroke-width="1"/>
<rect x="354.43" y="329.3" width="2.1" height="5.9" fill="#EF5350"/>
<line x1="358.47" y1="332.3" x2="358.47" y2="337.5" stroke="#EF5350" stroke-width="1"/>
<rect x="357.42" y="333.4" width="2.1" height="1.8" fill="#EF5350"/>
<line x1="361.46" y1="334.6" x2="361.46" y2="349.3" stroke="#EF5350" stroke-width="1"/>
<rect x="360.41" y="335.8" width="2.1" height="10.5" fill="#EF5350"/>
<line x1="364.45" y1="345.2" x2="364.45" y2="355.7" stroke="#EF5350" stroke-width="1"/>
<rect x="363.4" y="346.3" width="2.1" height="7.7" fill="#EF5350"/>
<line x1="367.44" y1="352.2" x2="367.44" y2="358.6" stroke="#EF5350" stroke-width="1"/>
<rect x="366.39" y="353.4" width="2.1" height="2.3" fill="#EF5350"/>
<line x1="370.43" y1="351" x2="370.43" y2="358" stroke="#26A69A" stroke-width="1"/>
<rect x="369.38" y="354" width="2.1" height="1.7" fill="#26A69A"/>
<line x1="373.42" y1="343.4" x2="373.42" y2="354.5" stroke="#26A69A" stroke-width="1"/>
<rect x="372.37" y="345.7" width="2.1" height="8.8" fill="#26A69A"/>
<line x1="376.41" y1="339.9" x2="376.41" y2="357.5" stroke="#EF5350" stroke-width="1"/>
<rect x="375.36" y="345.7" width="2.1" height="11.2" fill="#EF5350"/>
<line x1="379.4" y1="351.6" x2="379.4" y2="361" stroke="#26A69A" stroke-width="1"/>
<rect x="378.35" y="354" width="2.1" height="2.9" fill="#26A69A"/>
<line x1="382.39" y1="352.8" x2="382.39" y2="359.2" stroke="#EF5350" stroke-width="1"/>
<rect x="381.34" y="354" width="2.1" height="1.1" fill="#EF5350"/>
<line x1="385.38" y1="353.4" x2="385.38" y2="356.3" stroke="#EF5350" stroke-width="1"/>
<rect x="384.33" y="354.3" width="2.1" height="0.8" fill="#EF5350"/>
<line x1="388.37" y1="354.9" x2="388.37" y2="381.9" stroke="#EF5350" stroke-width="1"/>
<rect x="387.32" y="355.5" width="2.1" height="22.9" fill="#EF5350"/>
<line x1="391.36" y1="371.9" x2="391.36" y2="394.8" stroke="#EF5350" stroke-width="1"/>
<rect x="390.31" y="377.8" width="2.1" height="3.5" fill="#EF5350"/>
<line x1="394.35" y1="374.3" x2="394.35" y2="391.8" stroke="#EF5350" stroke-width="1"/>
<rect x="393.3" y="380.7" width="2.1" height="9.4" fill="#EF5350"/>
<line x1="397.33" y1="367.2" x2="397.33" y2="396.5" stroke="#26A69A" stroke-width="1"/>
<rect x="396.28" y="368.4" width="2.1" height="21.1" fill="#26A69A"/>
<line x1="400.32" y1="368.4" x2="400.32" y2="388.9" stroke="#EF5350" stroke-width="1"/>
<rect x="399.27" y="369" width="2.1" height="15.2" fill="#EF5350"/>
<line x1="403.31" y1="377.2" x2="403.31" y2="384.8" stroke="#26A69A" stroke-width="1"/>
<rect x="402.26" y="379.5" width="2.1" height="4.7" fill="#26A69A"/>
<line x1="406.3" y1="369" x2="406.3" y2="381.3" stroke="#26A69A" stroke-width="1"/>
<rect x="405.25" y="371.9" width="2.1" height="8.2" fill="#26A69A"/>
<line x1="409.29" y1="371.3" x2="409.29" y2="379.5" stroke="#EF5350" stroke-width="1"/>
<rect x="408.24" y="371.9" width="2.1" height="4.7" fill="#EF5350"/>
<line x1="412.28" y1="366.6" x2="412.28" y2="376.6" stroke="#26A69A" stroke-width="1"/>
<rect x="411.23" y="373.1" width="2.1" height="3.5" fill="#26A69A"/>
<line x1="415.27" y1="369.6" x2="415.27" y2="377.8" stroke="#EF5350" stroke-width="1"/>
<rect x="414.22" y="373.1" width="2.1" height="4.1" fill="#EF5350"/>
<line x1="418.26" y1="376" x2="418.26" y2="381.9" stroke="#EF5350" stroke-width="1"/>
<rect x="417.21" y="376.6" width="2.1" height="2.4" fill="#EF5350"/>
<line x1="421.25" y1="374.3" x2="421.25" y2="379.5" stroke="#26A69A" stroke-width="1"/>
<rect x="420.2" y="376.6" width="2.1" height="2.4" fill="#26A69A"/>
<line x1="424.24" y1="376.5" x2="424.24" y2="378.5" stroke="#26A69A" stroke-width="1"/>
<rect x="423.19" y="377.1" width="2.1" height="0.8" fill="#26A69A"/>
<line x1="427.23" y1="372.5" x2="427.23" y2="377.8" stroke="#26A69A" stroke-width="1"/>
<rect x="426.18" y="374.8" width="2.1" height="3" fill="#26A69A"/>
<line x1="430.22" y1="374.3" x2="430.22" y2="379" stroke="#EF5350" stroke-width="1"/>
<rect x="429.17" y="374.8" width="2.1" height="3" fill="#EF5350"/>
<line x1="433.21" y1="370.2" x2="433.21" y2="379" stroke="#EF5350" stroke-width="1"/>
<rect x="432.16" y="376.6" width="2.1" height="1.8" fill="#EF5350"/>
<line x1="436.2" y1="358.4" x2="436.2" y2="381.9" stroke="#26A69A" stroke-width="1"/>
<rect x="435.15" y="360.5" width="2.1" height="17.9" fill="#26A69A"/>
<line x1="439.19" y1="352" x2="439.19" y2="361.4" stroke="#26A69A" stroke-width="1"/>
<rect x="438.14" y="357" width="2.1" height="3.8" fill="#26A69A"/>
<line x1="442.18" y1="354.9" x2="442.18" y2="363.7" stroke="#EF5350" stroke-width="1"/>
<rect x="441.13" y="357" width="2.1" height="2.9" fill="#EF5350"/>
<line x1="445.17" y1="353.2" x2="445.17" y2="362" stroke="#26A69A" stroke-width="1"/>
<rect x="444.12" y="357.3" width="2.1" height="2.6" fill="#26A69A"/>
<line x1="448.16" y1="351.4" x2="448.16" y2="358.4" stroke="#26A69A" stroke-width="1"/>
<rect x="447.11" y="353.7" width="2.1" height="4.1" fill="#26A69A"/>
<line x1="451.15" y1="350" x2="451.15" y2="357.3" stroke="#EF5350" stroke-width="1"/>
<rect x="450.1" y="354" width="2.1" height="2.7" fill="#EF5350"/>
<line x1="454.14" y1="353.2" x2="454.14" y2="360.8" stroke="#26A69A" stroke-width="1"/>
<rect x="453.09" y="355.8" width="2.1" height="2" fill="#26A69A"/>
<line x1="457.12" y1="351.7" x2="457.12" y2="358.4" stroke="#EF5350" stroke-width="1"/>
<rect x="456.07" y="356.1" width="2.1" height="1.2" fill="#EF5350"/>
<line x1="460.11" y1="354.9" x2="460.11" y2="362.5" stroke="#EF5350" stroke-width="1"/>
<rect x="459.06" y="356.4" width="2.1" height="2" fill="#EF5350"/>
<line x1="463.1" y1="348.8" x2="463.1" y2="357.8" stroke="#26A69A" stroke-width="1"/>
<rect x="462.05" y="352.3" width="2.1" height="5" fill="#26A69A"/>
<line x1="466.09" y1="348.8" x2="466.09" y2="354.3" stroke="#26A69A" stroke-width="1"/>
<rect x="465.04" y="350" width="2.1" height="2.6" fill="#26A69A"/>
<line x1="469.08" y1="351.1" x2="469.08" y2="354.3" stroke="#EF5350" stroke-width="1"/>
<rect x="468.03" y="351.7" width="2.1" height="1.2" fill="#EF5350"/>
<line x1="472.07" y1="350.8" x2="472.07" y2="356.1" stroke="#EF5350" stroke-width="1"/>
<rect x="471.02" y="352" width="2.1" height="3.5" fill="#EF5350"/>
<line x1="475.06" y1="352.3" x2="475.06" y2="357.5" stroke="#26A69A" stroke-width="1"/>
<rect x="474.01" y="353.7" width="2.1" height="2.4" fill="#26A69A"/>
<line x1="478.05" y1="353.7" x2="478.05" y2="360.2" stroke="#EF5350" stroke-width="1"/>
<rect x="477" y="353.9" width="2.1" height="0.8" fill="#EF5350"/>
<line x1="481.04" y1="350.8" x2="481.04" y2="359.6" stroke="#EF5350" stroke-width="1"/>
<rect x="479.99" y="354.6" width="2.1" height="0.8" fill="#EF5350"/>
<line x1="484.03" y1="314" x2="484.03" y2="355.6" stroke="#26A69A" stroke-width="1"/>
<rect x="482.98" y="314.6" width="2.1" height="40.4" fill="#26A69A"/>
<line x1="487.02" y1="286.3" x2="487.02" y2="316.4" stroke="#26A69A" stroke-width="1"/>
<rect x="485.97" y="300.9" width="2.1" height="14.9" fill="#26A69A"/>
<line x1="490.01" y1="275.7" x2="490.01" y2="304.5" stroke="#26A69A" stroke-width="1"/>
<rect x="488.96" y="276.9" width="2.1" height="24.6" fill="#26A69A"/>
<line x1="493" y1="274.6" x2="493" y2="292.2" stroke="#EF5350" stroke-width="1"/>
<rect x="491.95" y="277.5" width="2.1" height="7" fill="#EF5350"/>
<line x1="495.99" y1="274" x2="495.99" y2="295.1" stroke="#EF5350" stroke-width="1"/>
<rect x="494.94" y="284" width="2.1" height="2.9" fill="#EF5350"/>
<line x1="498.98" y1="262.3" x2="498.98" y2="294.5" stroke="#26A69A" stroke-width="1"/>
<rect x="497.93" y="267.5" width="2.1" height="19.4" fill="#26A69A"/>
<line x1="501.97" y1="263.4" x2="501.97" y2="280.4" stroke="#EF5350" stroke-width="1"/>
<rect x="500.92" y="267.5" width="2.1" height="8.2" fill="#EF5350"/>
<line x1="504.96" y1="271.6" x2="504.96" y2="287.5" stroke="#EF5350" stroke-width="1"/>
<rect x="503.91" y="275.2" width="2.1" height="6.4" fill="#EF5350"/>
<line x1="507.95" y1="271" x2="507.95" y2="282.8" stroke="#EF5350" stroke-width="1"/>
<rect x="506.9" y="281" width="2.1" height="1.2" fill="#EF5350"/>
<line x1="510.94" y1="281.6" x2="510.94" y2="290.4" stroke="#EF5350" stroke-width="1"/>
<rect x="509.89" y="282.2" width="2.1" height="7" fill="#EF5350"/>
<line x1="513.93" y1="277.5" x2="513.93" y2="303.3" stroke="#26A69A" stroke-width="1"/>
<rect x="512.88" y="286.3" width="2.1" height="2.9" fill="#26A69A"/>
<line x1="516.92" y1="277.5" x2="516.92" y2="301" stroke="#26A69A" stroke-width="1"/>
<rect x="515.87" y="282.8" width="2.1" height="4.1" fill="#26A69A"/>
<line x1="519.9" y1="276.9" x2="519.9" y2="291.6" stroke="#EF5350" stroke-width="1"/>
<rect x="518.85" y="282.8" width="2.1" height="1.2" fill="#EF5350"/>
<line x1="522.89" y1="274.6" x2="522.89" y2="291" stroke="#26A69A" stroke-width="1"/>
<rect x="521.84" y="280.4" width="2.1" height="3.6" fill="#26A69A"/>
<line x1="525.88" y1="265.8" x2="525.88" y2="281" stroke="#26A69A" stroke-width="1"/>
<rect x="524.83" y="268.7" width="2.1" height="12.3" fill="#26A69A"/>
<line x1="528.87" y1="262.9" x2="528.87" y2="285.1" stroke="#EF5350" stroke-width="1"/>
<rect x="527.82" y="269.3" width="2.1" height="15.2" fill="#EF5350"/>
<line x1="531.86" y1="278.1" x2="531.86" y2="284" stroke="#26A69A" stroke-width="1"/>
<rect x="530.81" y="281.6" width="2.1" height="1.8" fill="#26A69A"/>
<line x1="534.85" y1="280.4" x2="534.85" y2="288.6" stroke="#26A69A" stroke-width="1"/>
<rect x="533.8" y="281" width="2.1" height="1.8" fill="#26A69A"/>
<line x1="537.84" y1="276.3" x2="537.84" y2="284" stroke="#26A69A" stroke-width="1"/>
<rect x="536.79" y="279.3" width="2.1" height="1.7" fill="#26A69A"/>
<line x1="540.83" y1="265.2" x2="540.83" y2="284.5" stroke="#26A69A" stroke-width="1"/>
<rect x="539.78" y="269.9" width="2.1" height="10.5" fill="#26A69A"/>
<line x1="543.82" y1="267" x2="543.82" y2="274" stroke="#26A69A" stroke-width="1"/>
<rect x="542.77" y="268.1" width="2.1" height="2.9" fill="#26A69A"/>
<line x1="546.81" y1="257" x2="546.81" y2="273.4" stroke="#EF5350" stroke-width="1"/>
<rect x="545.76" y="268.1" width="2.1" height="5.3" fill="#EF5350"/>
<line x1="549.8" y1="271" x2="549.8" y2="284.5" stroke="#EF5350" stroke-width="1"/>
<rect x="548.75" y="272.8" width="2.1" height="11.2" fill="#EF5350"/>
<line x1="552.79" y1="281" x2="552.79" y2="288" stroke="#EF5350" stroke-width="1"/>
<rect x="551.74" y="282.2" width="2.1" height="4.1" fill="#EF5350"/>
<line x1="555.78" y1="281.6" x2="555.78" y2="288" stroke="#26A69A" stroke-width="1"/>
<rect x="554.73" y="282.2" width="2.1" height="2.9" fill="#26A69A"/>
<line x1="558.77" y1="274.6" x2="558.77" y2="288" stroke="#26A69A" stroke-width="1"/>
<rect x="557.72" y="275.2" width="2.1" height="9.9" fill="#26A69A"/>
<line x1="561.76" y1="269.9" x2="561.76" y2="277.5" stroke="#EF5350" stroke-width="1"/>
<rect x="560.71" y="275.2" width="2.1" height="2.3" fill="#EF5350"/>
<line x1="564.75" y1="268.1" x2="564.75" y2="277.5" stroke="#26A69A" stroke-width="1"/>
<rect x="563.7" y="275.2" width="2.1" height="1.7" fill="#26A69A"/>
<line x1="567.74" y1="271" x2="567.74" y2="296.8" stroke="#EF5350" stroke-width="1"/>
<rect x="566.69" y="275.2" width="2.1" height="20.5" fill="#EF5350"/>
<line x1="570.73" y1="283.4" x2="570.73" y2="297.4" stroke="#26A69A" stroke-width="1"/>
<rect x="569.68" y="287.5" width="2.1" height="8.2" fill="#26A69A"/>
<line x1="573.72" y1="281.6" x2="573.72" y2="289.2" stroke="#26A69A" stroke-width="1"/>
<rect x="572.67" y="283.4" width="2.1" height="4.1" fill="#26A69A"/>
<line x1="576.71" y1="282.8" x2="576.71" y2="286.9" stroke="#EF5350" stroke-width="1"/>
<rect x="575.66" y="283.4" width="2.1" height="2.9" fill="#EF5350"/>
<line x1="579.69" y1="266.4" x2="579.69" y2="288" stroke="#26A69A" stroke-width="1"/>
<rect x="578.64" y="267.5" width="2.1" height="18.2" fill="#26A69A"/>
<line x1="582.68" y1="253.5" x2="582.68" y2="269.3" stroke="#26A69A" stroke-width="1"/>
<rect x="581.63" y="254.1" width="2.1" height="14.6" fill="#26A69A"/>
<line x1="585.67" y1="248.8" x2="585.67" y2="261.7" stroke="#EF5350" stroke-width="1"/>
<rect x="584.62" y="254.6" width="2.1" height="7.1" fill="#EF5350"/>
<line x1="588.66" y1="257.6" x2="588.66" y2="274" stroke="#EF5350" stroke-width="1"/>
<rect x="587.61" y="258.8" width="2.1" height="15.2" fill="#EF5350"/>
<line x1="591.65" y1="271" x2="591.65" y2="292.2" stroke="#EF5350" stroke-width="1"/>
<rect x="590.6" y="271.6" width="2.1" height="7.1" fill="#EF5350"/>
<line x1="594.64" y1="277.5" x2="594.64" y2="286.9" stroke="#EF5350" stroke-width="1"/>
<rect x="593.59" y="278.7" width="2.1" height="4.7" fill="#EF5350"/>
<line x1="597.63" y1="279.8" x2="597.63" y2="286.3" stroke="#26A69A" stroke-width="1"/>
<rect x="596.58" y="282.2" width="2.1" height="1.8" fill="#26A69A"/>
<line x1="600.62" y1="268.1" x2="600.62" y2="284" stroke="#EF5350" stroke-width="1"/>
<rect x="599.57" y="279.3" width="2.1" height="1.1" fill="#EF5350"/>
<line x1="603.61" y1="274" x2="603.61" y2="289.2" stroke="#EF5350" stroke-width="1"/>
<rect x="602.56" y="279.8" width="2.1" height="4.7" fill="#EF5350"/>
<line x1="606.6" y1="282.2" x2="606.6" y2="289.2" stroke="#26A69A" stroke-width="1"/>
<rect x="605.55" y="282.8" width="2.1" height="2.9" fill="#26A69A"/>
<line x1="609.59" y1="280.4" x2="609.59" y2="286.9" stroke="#EF5350" stroke-width="1"/>
<rect x="608.54" y="283.4" width="2.1" height="1.1" fill="#EF5350"/>
<line x1="612.58" y1="279.3" x2="612.58" y2="298.8" stroke="#EF5350" stroke-width="1"/>
<rect x="611.53" y="280.4" width="2.1" height="14.8" fill="#EF5350"/>
<line x1="615.57" y1="291.1" x2="615.57" y2="314" stroke="#EF5350" stroke-width="1"/>
<rect x="614.52" y="295.8" width="2.1" height="11.7" fill="#EF5350"/>
<line x1="618.56" y1="304.6" x2="618.56" y2="324.5" stroke="#EF5350" stroke-width="1"/>
<rect x="617.51" y="307.5" width="2.1" height="6.5" fill="#EF5350"/>
<line x1="621.55" y1="291.7" x2="621.55" y2="316.9" stroke="#26A69A" stroke-width="1"/>
<rect x="620.5" y="292.3" width="2.1" height="21.7" fill="#26A69A"/>
<line x1="624.54" y1="288.8" x2="624.54" y2="298.6" stroke="#26A69A" stroke-width="1"/>
<rect x="623.49" y="290.5" width="2.1" height="5.3" fill="#26A69A"/>
<line x1="627.53" y1="288" x2="627.53" y2="296.8" stroke="#EF5350" stroke-width="1"/>
<rect x="626.48" y="289.8" width="2.1" height="4.1" fill="#EF5350"/>
<line x1="630.52" y1="282.2" x2="630.52" y2="295.1" stroke="#EF5350" stroke-width="1"/>
<rect x="629.47" y="293.3" width="2.1" height="1.2" fill="#EF5350"/>
<line x1="633.51" y1="289.8" x2="633.51" y2="297.4" stroke="#26A69A" stroke-width="1"/>
<rect x="632.46" y="291.6" width="2.1" height="2.9" fill="#26A69A"/>
<line x1="636.5" y1="291.6" x2="636.5" y2="295.1" stroke="#26A69A" stroke-width="1"/>
<rect x="635.45" y="292.2" width="2.1" height="1.7" fill="#26A69A"/>
<line x1="639.48" y1="283.4" x2="639.48" y2="293.9" stroke="#26A69A" stroke-width="1"/>
<rect x="638.43" y="285.7" width="2.1" height="7" fill="#26A69A"/>
<line x1="642.47" y1="283.4" x2="642.47" y2="293.3" stroke="#EF5350" stroke-width="1"/>
<rect x="641.42" y="285.7" width="2.1" height="4.7" fill="#EF5350"/>
<line x1="645.46" y1="285.7" x2="645.46" y2="296.3" stroke="#EF5350" stroke-width="1"/>
<rect x="644.41" y="286.9" width="2.1" height="9.4" fill="#EF5350"/>
<line x1="648.45" y1="274" x2="648.45" y2="298" stroke="#26A69A" stroke-width="1"/>
<rect x="647.4" y="279.3" width="2.1" height="17" fill="#26A69A"/>
<line x1="651.44" y1="271.6" x2="651.44" y2="281" stroke="#26A69A" stroke-width="1"/>
<rect x="650.39" y="275.2" width="2.1" height="4.6" fill="#26A69A"/>
<line x1="654.43" y1="275.2" x2="654.43" y2="285.7" stroke="#EF5350" stroke-width="1"/>
<rect x="653.38" y="276.3" width="2.1" height="8.8" fill="#EF5350"/>
<line x1="657.42" y1="282.8" x2="657.42" y2="285.7" stroke="#26A69A" stroke-width="1"/>
<rect x="656.37" y="283.4" width="2.1" height="1.7" fill="#26A69A"/>
<line x1="660.41" y1="275.2" x2="660.41" y2="284.5" stroke="#26A69A" stroke-width="1"/>
<rect x="659.36" y="278.7" width="2.1" height="4.7" fill="#26A69A"/>
<line x1="663.4" y1="276.9" x2="663.4" y2="284" stroke="#EF5350" stroke-width="1"/>
<rect x="662.35" y="278.7" width="2.1" height="4.1" fill="#EF5350"/>
<line x1="666.39" y1="273.4" x2="666.39" y2="282.8" stroke="#26A69A" stroke-width="1"/>
<rect x="665.34" y="274.6" width="2.1" height="8.2" fill="#26A69A"/>
<line x1="669.38" y1="256.4" x2="669.38" y2="276.3" stroke="#26A69A" stroke-width="1"/>
<rect x="668.33" y="259.3" width="2.1" height="15.9" fill="#26A69A"/>
<line x1="672.37" y1="235.7" x2="672.37" y2="260.3" stroke="#26A69A" stroke-width="1"/>
<rect x="671.32" y="241" width="2.1" height="18.1" fill="#26A69A"/>
<line x1="675.36" y1="231.6" x2="675.36" y2="244.5" stroke="#26A69A" stroke-width="1"/>
<rect x="674.31" y="239.8" width="2.1" height="0.8" fill="#26A69A"/>
<line x1="678.35" y1="238" x2="678.35" y2="245.1" stroke="#EF5350" stroke-width="1"/>
<rect x="677.3" y="240.2" width="2.1" height="1.4" fill="#EF5350"/>
<line x1="681.34" y1="234" x2="681.34" y2="241.6" stroke="#26A69A" stroke-width="1"/>
<rect x="680.29" y="239.2" width="2.1" height="2.4" fill="#26A69A"/>
<line x1="684.33" y1="227.5" x2="684.33" y2="241.6" stroke="#26A69A" stroke-width="1"/>
<rect x="683.28" y="234.5" width="2.1" height="4.1" fill="#26A69A"/>
<line x1="687.32" y1="221.6" x2="687.32" y2="241.6" stroke="#26A69A" stroke-width="1"/>
<rect x="686.27" y="222.2" width="2.1" height="13.5" fill="#26A69A"/>
<line x1="690.31" y1="194.1" x2="690.31" y2="225.7" stroke="#26A69A" stroke-width="1"/>
<rect x="689.26" y="199.4" width="2.1" height="22.8" fill="#26A69A"/>
<line x1="693.3" y1="183.3" x2="693.3" y2="204.6" stroke="#26A69A" stroke-width="1"/>
<rect x="692.25" y="188.6" width="2.1" height="10.8" fill="#26A69A"/>
<line x1="696.29" y1="168.1" x2="696.29" y2="189.8" stroke="#26A69A" stroke-width="1"/>
<rect x="695.24" y="181" width="2.1" height="8.2" fill="#26A69A"/>
<line x1="699.27" y1="175.1" x2="699.27" y2="185.7" stroke="#26A69A" stroke-width="1"/>
<rect x="698.22" y="176.3" width="2.1" height="5.3" fill="#26A69A"/>
<line x1="702.26" y1="152.9" x2="702.26" y2="178" stroke="#26A69A" stroke-width="1"/>
<rect x="701.21" y="159.9" width="2.1" height="17.6" fill="#26A69A"/>
<line x1="705.25" y1="149.3" x2="705.25" y2="165.7" stroke="#26A69A" stroke-width="1"/>
<rect x="704.2" y="158.6" width="2.1" height="0.8" fill="#26A69A"/>
<line x1="708.24" y1="156.4" x2="708.24" y2="173.9" stroke="#EF5350" stroke-width="1"/>
<rect x="707.19" y="159.9" width="2.1" height="1.7" fill="#EF5350"/>
<line x1="711.23" y1="162.2" x2="711.23" y2="182.7" stroke="#EF5350" stroke-width="1"/>
<rect x="710.18" y="163.4" width="2.1" height="10" fill="#EF5350"/>
<line x1="714.22" y1="158.1" x2="714.22" y2="185.1" stroke="#26A69A" stroke-width="1"/>
<rect x="713.17" y="165.2" width="2.1" height="8.2" fill="#26A69A"/>
<line x1="717.21" y1="161.6" x2="717.21" y2="178.6" stroke="#26A69A" stroke-width="1"/>
<rect x="716.16" y="162.8" width="2.1" height="3" fill="#26A69A"/>
<line x1="720.2" y1="156.4" x2="720.2" y2="165.2" stroke="#26A69A" stroke-width="1"/>
<rect x="719.15" y="161.1" width="2.1" height="2.9" fill="#26A69A"/>
<line x1="723.19" y1="148.2" x2="723.19" y2="162.2" stroke="#26A69A" stroke-width="1"/>
<rect x="722.14" y="148.8" width="2.1" height="12.8" fill="#26A69A"/>
<line x1="726.18" y1="141.1" x2="726.18" y2="159.9" stroke="#EF5350" stroke-width="1"/>
<rect x="725.13" y="148.8" width="2.1" height="6.4" fill="#EF5350"/>
<line x1="729.17" y1="147" x2="729.17" y2="164.6" stroke="#EF5350" stroke-width="1"/>
<rect x="728.12" y="154.6" width="2.1" height="1.2" fill="#EF5350"/>
<line x1="732.16" y1="151.7" x2="732.16" y2="168.1" stroke="#26A69A" stroke-width="1"/>
<rect x="731.11" y="155.2" width="2.1" height="1.2" fill="#26A69A"/>
<line x1="735.15" y1="148.2" x2="735.15" y2="166.9" stroke="#EF5350" stroke-width="1"/>
<rect x="734.1" y="154.6" width="2.1" height="11.7" fill="#EF5350"/>
<line x1="738.14" y1="164" x2="738.14" y2="192.7" stroke="#EF5350" stroke-width="1"/>
<rect x="737.09" y="165.7" width="2.1" height="21.7" fill="#EF5350"/>
<line x1="741.13" y1="182.1" x2="741.13" y2="198.6" stroke="#EF5350" stroke-width="1"/>
<rect x="740.08" y="186.3" width="2.1" height="9.9" fill="#EF5350"/>
<line x1="744.12" y1="185.7" x2="744.12" y2="200.3" stroke="#26A69A" stroke-width="1"/>
<rect x="743.07" y="187.4" width="2.1" height="9.4" fill="#26A69A"/>
<line x1="747.11" y1="162.8" x2="747.11" y2="186.8" stroke="#26A69A" stroke-width="1"/>
<rect x="746.06" y="163.4" width="2.1" height="22.9" fill="#26A69A"/>
<line x1="750.1" y1="163.4" x2="750.1" y2="180.4" stroke="#EF5350" stroke-width="1"/>
<rect x="749.05" y="164" width="2.1" height="10.5" fill="#EF5350"/>
<line x1="753.09" y1="166.3" x2="753.09" y2="179.2" stroke="#26A69A" stroke-width="1"/>
<rect x="752.04" y="167.5" width="2.1" height="7.6" fill="#26A69A"/>
<line x1="756.08" y1="142.9" x2="756.08" y2="171" stroke="#26A69A" stroke-width="1"/>
<rect x="755.03" y="144.6" width="2.1" height="23.5" fill="#26A69A"/>
<line x1="759.06" y1="131.6" x2="759.06" y2="147.6" stroke="#26A69A" stroke-width="1"/>
<rect x="758.01" y="134.5" width="2.1" height="11.8" fill="#26A69A"/>
<line x1="762.05" y1="102.8" x2="762.05" y2="134.5" stroke="#26A69A" stroke-width="1"/>
<rect x="761" y="109.9" width="2.1" height="24.1" fill="#26A69A"/>
<line x1="765.04" y1="102.2" x2="765.04" y2="119.9" stroke="#EF5350" stroke-width="1"/>
<rect x="763.99" y="110.4" width="2.1" height="0.8" fill="#EF5350"/>
<line x1="768.03" y1="99.3" x2="768.03" y2="118.7" stroke="#EF5350" stroke-width="1"/>
<rect x="766.98" y="111.1" width="2.1" height="3.5" fill="#EF5350"/>
<line x1="771.02" y1="71.7" x2="771.02" y2="114.6" stroke="#26A69A" stroke-width="1"/>
<rect x="769.97" y="77" width="2.1" height="37" fill="#26A69A"/>
<line x1="774.01" y1="57.7" x2="774.01" y2="79.4" stroke="#26A69A" stroke-width="1"/>
<rect x="772.96" y="60.6" width="2.1" height="17" fill="#26A69A"/>
<line x1="777" y1="57.1" x2="777" y2="89.9" stroke="#EF5350" stroke-width="1"/>
<rect x="775.95" y="60.6" width="2.1" height="20.5" fill="#EF5350"/>
<line x1="779.99" y1="68.8" x2="779.99" y2="98.1" stroke="#EF5350" stroke-width="1"/>
<rect x="778.94" y="80.5" width="2.1" height="11.8" fill="#EF5350"/>
<line x1="782.98" y1="87" x2="782.98" y2="98.7" stroke="#EF5350" stroke-width="1"/>
<rect x="781.93" y="91.1" width="2.1" height="2.9" fill="#EF5350"/>
<line x1="785.97" y1="78.8" x2="785.97" y2="94.6" stroke="#26A69A" stroke-width="1"/>
<rect x="784.92" y="88.2" width="2.1" height="5.2" fill="#26A69A"/>
<line x1="788.96" y1="87.6" x2="788.96" y2="112.3" stroke="#EF5350" stroke-width="1"/>
<rect x="787.91" y="87.6" width="2.1" height="17.6" fill="#EF5350"/>
<line x1="791.95" y1="99.9" x2="791.95" y2="128.7" stroke="#EF5350" stroke-width="1"/>
<rect x="790.9" y="104" width="2.1" height="23.5" fill="#EF5350"/>
<line x1="794.94" y1="98.1" x2="794.94" y2="129.3" stroke="#26A69A" stroke-width="1"/>
<rect x="793.89" y="104.1" width="2.1" height="23.4" fill="#26A69A"/>
<line x1="797.93" y1="101.6" x2="797.93" y2="118.1" stroke="#EF5350" stroke-width="1"/>
<rect x="796.88" y="102.3" width="2.1" height="12.3" fill="#EF5350"/>
<line x1="800.92" y1="47.1" x2="800.92" y2="113.4" stroke="#26A69A" stroke-width="1"/>
<rect x="799.87" y="52.4" width="2.1" height="59.9" fill="#26A69A"/>
<line x1="803.91" y1="51.8" x2="803.91" y2="70" stroke="#EF5350" stroke-width="1"/>
<rect x="802.86" y="52.4" width="2.1" height="5.9" fill="#EF5350"/>
<line x1="806.9" y1="41.3" x2="806.9" y2="64.1" stroke="#26A69A" stroke-width="1"/>
<rect x="805.85" y="57" width="2.1" height="0.8" fill="#26A69A"/>
<line x1="809.89" y1="55.9" x2="809.89" y2="102.9" stroke="#EF5350" stroke-width="1"/>
<rect x="808.84" y="57.1" width="2.1" height="44.6" fill="#EF5350"/>
<line x1="812.88" y1="72.3" x2="812.88" y2="104" stroke="#26A69A" stroke-width="1"/>
<rect x="811.83" y="74.7" width="2.1" height="25.3" fill="#26A69A"/>
<line x1="815.87" y1="70" x2="815.87" y2="87.6" stroke="#EF5350" stroke-width="1"/>
<rect x="814.82" y="75.3" width="2.1" height="9.9" fill="#EF5350"/>
<line x1="818.85" y1="72.3" x2="818.85" y2="92.3" stroke="#26A69A" stroke-width="1"/>
<rect x="817.8" y="84" width="2.1" height="6" fill="#26A69A"/>
<line x1="821.84" y1="83.5" x2="821.84" y2="108.8" stroke="#EF5350" stroke-width="1"/>
<rect x="820.79" y="84" width="2.1" height="17.7" fill="#EF5350"/>
<line x1="824.83" y1="94" x2="824.83" y2="109.3" stroke="#26A69A" stroke-width="1"/>
<rect x="823.78" y="97" width="2.1" height="4.7" fill="#26A69A"/>
<line x1="827.82" y1="86.4" x2="827.82" y2="102.9" stroke="#26A69A" stroke-width="1"/>
<rect x="826.77" y="94.7" width="2.1" height="4.1" fill="#26A69A"/>
<line x1="830.81" y1="87" x2="830.81" y2="114" stroke="#EF5350" stroke-width="1"/>
<rect x="829.76" y="95" width="2.1" height="10.2" fill="#EF5350"/>
<line x1="833.8" y1="94" x2="833.8" y2="109.9" stroke="#26A69A" stroke-width="1"/>
<rect x="832.75" y="97.6" width="2.1" height="7" fill="#26A69A"/>
<line x1="836.79" y1="87" x2="836.79" y2="107.7" stroke="#26A69A" stroke-width="1"/>
<rect x="835.74" y="90.5" width="2.1" height="12.8" fill="#26A69A"/>
<line x1="839.78" y1="87.5" x2="839.78" y2="109" stroke="#EF5350" stroke-width="1"/>
<rect x="838.73" y="90.5" width="2.1" height="15.9" fill="#EF5350"/>
<line x1="842.77" y1="87" x2="842.77" y2="109.4" stroke="#26A69A" stroke-width="1"/>
<rect x="841.72" y="104.2" width="2.1" height="2.2" fill="#26A69A"/>
<line x1="845.76" y1="103.3" x2="845.76" y2="111.6" stroke="#EF5350" stroke-width="1"/>
<rect x="844.71" y="104.6" width="2.1" height="4.4" fill="#EF5350"/>
<line x1="848.75" y1="102.4" x2="848.75" y2="109" stroke="#26A69A" stroke-width="1"/>
<rect x="847.7" y="103.7" width="2.1" height="4.9" fill="#26A69A"/>
<line x1="851.74" y1="97.1" x2="851.74" y2="107.2" stroke="#26A69A" stroke-width="1"/>
<rect x="850.69" y="102.4" width="2.1" height="4" fill="#26A69A"/>
<line x1="854.73" y1="98" x2="854.73" y2="108.1" stroke="#26A69A" stroke-width="1"/>
<rect x="853.68" y="101.1" width="2.1" height="4.8" fill="#26A69A"/>
<line x1="857.72" y1="90.5" x2="857.72" y2="106.8" stroke="#26A69A" stroke-width="1"/>
<rect x="856.67" y="93.2" width="2.1" height="12.3" fill="#26A69A"/>
<line x1="860.71" y1="87.5" x2="860.71" y2="101.8" stroke="#26A69A" stroke-width="1"/>
<rect x="859.66" y="89.7" width="2.1" height="11" fill="#26A69A"/>
<line x1="863.7" y1="60.5" x2="863.7" y2="90.4" stroke="#26A69A" stroke-width="1"/>
<rect x="862.65" y="64.5" width="2.1" height="25.5" fill="#26A69A"/>
<line x1="866.69" y1="58.8" x2="866.69" y2="75.5" stroke="#EF5350" stroke-width="1"/>
<rect x="865.64" y="64" width="2.1" height="6.2" fill="#EF5350"/>
<line x1="869.68" y1="66.3" x2="869.68" y2="76.4" stroke="#EF5350" stroke-width="1"/>
<rect x="868.63" y="68.5" width="2.1" height="7" fill="#EF5350"/>
<line x1="872.67" y1="68.9" x2="872.67" y2="88.8" stroke="#EF5350" stroke-width="1"/>
<rect x="871.62" y="75.5" width="2.1" height="10.5" fill="#EF5350"/>
<line x1="875.66" y1="82.5" x2="875.66" y2="93.6" stroke="#EF5350" stroke-width="1"/>
<rect x="874.61" y="84.3" width="2.1" height="4.4" fill="#EF5350"/>
<line x1="878.64" y1="73.7" x2="878.64" y2="94" stroke="#26A69A" stroke-width="1"/>
<rect x="877.59" y="76.4" width="2.1" height="10.5" fill="#26A69A"/>
<line x1="881.63" y1="71.1" x2="881.63" y2="80.3" stroke="#EF5350" stroke-width="1"/>
<rect x="880.58" y="76.8" width="2.1" height="0.9" fill="#EF5350"/>
<line x1="884.62" y1="74.2" x2="884.62" y2="91.7" stroke="#EF5350" stroke-width="1"/>
<rect x="883.57" y="76.8" width="2.1" height="13.6" fill="#EF5350"/>
<line x1="887.61" y1="85.3" x2="887.61" y2="90.1" stroke="#26A69A" stroke-width="1"/>
<rect x="886.56" y="87" width="2.1" height="2.7" fill="#26A69A"/>
<line x1="890.6" y1="86.2" x2="890.6" y2="91.4" stroke="#EF5350" stroke-width="1"/>
<rect x="889.55" y="87" width="2.1" height="4.4" fill="#EF5350"/>
<line x1="893.59" y1="89.67" x2="893.59" y2="127.6" stroke="#EF5350" stroke-width="1"/>
<rect x="892.54" y="90.75" width="2.1" height="26.75" fill="#EF5350"/>
<line x1="752.9" y1="130.3" x2="966.5" y2="130.3" stroke="#0000FF" stroke-width="2" stroke-dasharray="11.0 13.7"/>
<line x1="71" y1="161.8" x2="966.5" y2="161.8" stroke="#0000FF" stroke-width="2" stroke-dasharray="11.0 13.7"/>
<line x1="570.2" y1="248.6" x2="966.5" y2="248.6" stroke="#0000FF" stroke-width="2" stroke-dasharray="11.0 13.7"/>
<line x1="471.7" y1="262" x2="966.5" y2="262" stroke="#0000FF" stroke-width="2" stroke-dasharray="11.0 13.7"/>
<line x1="796.4" y1="37.6" x2="905.5" y2="70.4" stroke="#1c3b7c" stroke-width="2.1" stroke-linecap="round"/>
<line x1="788.3" y1="132.9" x2="908.6" y2="92.6" stroke="#1c3b7c" stroke-width="2.1" stroke-linecap="round"/>
<path d="M830.1,21.8 H896.4 Q901.4,21.8 901.4,26.8 V41.2 Q901.4,46.2 896.4,46.2 H869.6 L873,59 L857.2,46.2 H830.1 Q825.1,46.2 825.1,41.2 V26.8 Q825.1,21.8 830.1,21.8 Z" fill="#ffffff" fill-opacity="1" stroke="#a13637" stroke-width="1.1"/>
<text x="833.3" y="36.6" font-family='"Liberation Sans", sans-serif' font-size="10" fill="#a13637" stroke="#a13637" stroke-width="0.15" textLength="60" lengthAdjust="spacingAndGlyphs">Resistance line</text>
<path d="M811.8,138 H832.3 L819.2,121.9 L844.6,138 H866.5 Q871.5,138 871.5,143 V157.7 Q871.5,162.7 866.5,162.7 H811.8 Q806.8,162.7 806.8,157.7 V143 Q806.8,138 811.8,138 Z" fill="#ffffff" fill-opacity="0.7" stroke="#a13637" stroke-width="1.1"/>
<text x="815" y="153.4" font-family='"Liberation Sans", sans-serif' font-size="10" fill="#a13637" stroke="#a13637" stroke-width="0.15" textLength="48.5" lengthAdjust="spacingAndGlyphs">Support line</text>
</g>
<g clip-path="url(#cr)">
<rect x="8" y="459.01" width="959.5" height="76.28" fill="#7E57C2" fill-opacity="0.1"/>
<line x1="8" y1="459.01" x2="967.5" y2="459.01" stroke="#787B86" stroke-width="1" stroke-dasharray="4 4" stroke-opacity="0.6"/>
<line x1="8" y1="497.15" x2="967.5" y2="497.15" stroke="#787B86" stroke-width="1" stroke-dasharray="4 4" stroke-opacity="0.6"/>
<line x1="8" y1="535.29" x2="967.5" y2="535.29" stroke="#787B86" stroke-width="1" stroke-dasharray="4 4" stroke-opacity="0.6"/>
<polyline fill="none" stroke="#F7C531" stroke-width="1" points="8.7,467.59 20.66,464.73 32.62,462.44 47.56,466.92 50.55,468.37 53.54,469.38 56.53,469.68 59.52,470.42 62.51,473.62 65.5,477.29 68.49,481.29 71.48,485.71 74.47,490.44 77.46,492.1 80.45,492.96 83.44,494.76 86.43,497.47 89.42,500.3 92.41,502.28 95.4,504.99 98.39,507.72 101.37,509.94 104.36,510.36 107.35,509.01 110.34,507.49 113.33,505.17 116.32,502.82 119.31,501.07 122.3,501.39 125.29,502.02 128.28,502.36 131.27,502.38 134.26,502.79 137.25,503.01 140.24,503.94 143.23,504.01 146.22,503.04 149.21,503.59 152.2,503.88 155.19,505.25 158.17,506.84 161.16,508.35 164.15,507.84 167.14,507.52 170.13,506.12 173.12,505.23 176.11,504.34 179.1,503.83 182.09,502.98 185.08,503.39 188.07,504.7 191.06,504.47 194.05,504.83 197.04,505.32 200.03,506.33 203.02,507.61 206.01,509.66 209,510.89 211.99,513.06 214.98,515.27 217.97,517.5 220.95,519.27 223.94,520.47 226.93,521.35 229.92,521.52 232.91,522.84 235.9,524.01 238.89,524.43 241.88,524.11 244.87,523.24 247.86,522.22 250.85,521.19 253.84,519.65 256.83,518.36 259.82,516.28 262.81,513.93 265.8,513.51 268.79,512.9 271.78,514.06 274.77,515 277.75,516.61 280.74,518.1 283.73,517.25 286.72,518.45 289.71,519.14 292.7,519.74 295.69,520.68 298.68,521.36 301.67,522.51 304.66,524.6 307.65,525.54 310.64,525.97 313.63,525.83 316.62,525.75 319.61,525.03 322.6,524.12 325.59,525.56 328.58,525.27 331.57,525.22 334.56,524.43 337.55,523.87 340.53,523.25 343.52,522.71 346.51,521.38 349.5,519.03 352.49,517.3 355.48,515.82 358.47,514.18 361.46,513.65 364.45,513.69 367.44,513.62 370.43,513.71 373.42,512.84 376.41,513.88 379.4,514.23 382.39,514.5 385.38,515.12 388.37,517.15 391.36,519.83 394.35,522.69 397.33,523.18 400.32,524.42 403.31,524.57 406.3,523.69 409.29,522.98 412.28,522.16 415.27,522.43 418.26,522.09 421.25,521.81 424.24,521.5 427.23,520.96 430.22,519.33 433.21,517.62 436.2,513.86 439.19,511.89 442.18,509.43 445.17,507.13 448.16,505.11 451.15,503.16 454.14,501.41 457.12,499.59 460.11,497.8 463.1,495.61 466.09,493.16 469.08,491.34 472.07,489.63 475.06,487.68 478.05,487.53 481.04,487.77 484.03,484.42 487.02,480.8 490.01,476.87 493,473.4 495.99,470.27 498.98,466.42 501.97,463.22 504.96,461.15 507.95,459.38 510.94,457.84 513.93,455.84 516.92,453.9 519.9,451.95 522.89,449.71 525.88,450.26 528.87,452.78 531.86,455.74 534.85,457.87 537.84,459.65 540.83,461.42 543.82,462.33 546.81,463.27 549.8,465.15 552.79,466.62 555.78,467.93 558.77,468.94 561.76,470.07 564.75,471.22 567.74,474.7 570.73,476.06 573.72,477.28 576.71,478.77 579.69,479.18 582.68,479.49 585.67,480.57 588.66,482.04 591.65,482.86 594.64,483.78 597.63,484.91 600.62,486.38 603.61,487.92 606.6,489.47 609.59,489.36 612.58,490.72 615.57,493.16 618.56,495.71 621.55,497.67 624.54,500.14 627.53,502.16 630.52,503.27 633.51,503.79 636.5,504.03 639.48,503.79 642.47,504.08 645.46,504.53 648.45,503.75 651.44,502.56 654.43,501.37 657.42,499.28 660.41,496.49 663.4,495.86 666.39,494.74 669.38,492.46 672.37,489.29 675.36,486.32 678.35,483.48 681.34,481.08 684.33,478.05 687.32,474.04 690.31,470.69 693.3,467.36 696.29,463.04 699.27,458.75 702.26,454.5 705.25,449.87 708.24,446.17 711.23,444.63 714.22,443.68 717.21,442.71 720.2,441.5 723.19,440.05 726.18,439.49 729.17,439.5 732.16,440.19 735.15,442.32 738.14,446.36 741.13,451.08 744.12,455.55 747.11,458.85 750.1,462.55 753.09,464.7 756.08,466.21 759.06,467.45 762.05,468.06 765.04,469.11 768.03,469.74 771.02,469.4 774.01,468.79 777,468.22 779.99,466.52 782.98,464.34 785.97,462.52 788.96,462.83 791.95,463.45 794.94,463.58 797.93,465.06 800.92,465.24 803.91,466.35 806.9,467.35 809.89,469.76 812.88,472.38 815.87,475.64 818.85,477.63 821.84,479.6 824.83,481.34 827.82,483.18 830.81,484.48 833.8,484.47 836.79,485.03 839.78,485.76 842.77,488.04 845.76,490.28 848.75,492.31 851.74,492.62 854.73,493.56 857.72,493.79 860.71,493.87 863.7,492.34 866.69,491.28 869.68,490.61 872.67,490.15 875.66,490.11 878.64,489.74 881.63,488.81 884.62,488.72 887.61,488.25 890.6,488.27 893.59,489.65"/>
<defs><linearGradient id="gob" x1="0" y1="420.87" x2="0" y2="459.01" gradientUnits="userSpaceOnUse"><stop offset="0" stop-color="#4CAF50" stop-opacity="0.55"/><stop offset="1" stop-color="#4CAF50" stop-opacity="0"/></linearGradient><clipPath id="cob"><rect x="8" y="418" width="960" height="41.01"/></clipPath></defs>
<polygon clip-path="url(#cob)" fill="url(#gob)" points="8.7,459.01 8.7,457.89 11.69,458.13 14.68,466.47 17.67,469.96 20.66,457.01 23.65,463.71 26.64,453.46 29.63,454.71 32.62,453.8 35.61,483.8 38.59,490.84 41.58,477.77 44.57,475.26 47.56,474.11 50.55,478.15 53.54,472.31 56.53,470.65 59.52,480.36 62.51,501.82 65.5,515.08 68.49,509.41 71.48,516.63 74.47,519.92 77.46,507.05 80.45,502.93 83.44,502.93 86.43,513.29 89.42,513.64 92.41,505.95 95.4,510.16 98.39,508.87 101.37,511.51 104.36,507.62 107.35,496.29 110.34,488.03 113.33,484.13 116.32,487.08 119.31,482.57 122.3,507.45 125.29,511.68 128.28,518.11 131.27,513.81 134.26,511.67 137.25,513.3 140.24,521.84 143.23,512.5 146.22,494.06 149.21,504.07 152.2,492.07 155.19,503.33 158.17,509.25 161.16,503.72 164.15,500.34 167.14,507.15 170.13,498.57 173.12,501.37 176.11,499.16 179.1,506.2 182.09,510 185.08,518.22 188.07,512.42 191.06,500.79 194.05,497.17 197.04,510.1 200.03,523.37 203.02,521.76 206.01,529 209,524.29 211.99,529.02 214.98,532.24 217.97,530.46 220.95,530.96 223.94,526.7 226.93,530.64 229.92,514.82 232.91,519.28 235.9,513.55 238.89,515.98 241.88,518.83 244.87,509.54 247.86,514.82 250.85,509.85 253.84,507.4 256.83,514.21 259.82,501.34 262.81,497.97 265.8,520.84 268.79,522.22 271.78,531.01 274.77,532.48 277.75,536.01 280.74,536.91 283.73,506.86 286.72,526.4 289.71,524.52 292.7,518.19 295.69,520.63 298.68,523.68 301.67,517.49 304.66,527.17 307.65,534.03 310.64,528.24 313.63,529.08 316.62,531.29 319.61,526.02 322.6,524.17 325.59,526.92 328.58,522.36 331.57,523.87 334.56,507.09 337.55,512.77 340.53,514.96 343.52,509.94 346.51,508.64 349.5,501.13 352.49,503.91 355.48,508.37 358.47,508.37 361.46,518.58 364.45,524.72 367.44,526.04 370.43,523.5 373.42,511.69 376.41,521.68 379.4,517.68 382.39,518.69 385.38,518.69 388.37,536.99 391.36,538.78 394.35,543.89 397.33,515.23 400.32,525.78 403.31,520.59 406.3,512.51 409.29,515.97 412.28,512.14 415.27,515.41 418.26,516.86 421.25,513.83 424.24,514.38 427.23,511.06 430.22,514.17 433.21,514.81 436.2,491.36 439.19,487.61 442.18,491.39 445.17,488.37 448.16,484.24 451.15,488.69 454.14,487.55 457.12,489.96 460.11,491.79 463.1,483.14 466.09,480.08 469.08,485.54 472.07,490.33 475.06,487.47 478.05,489.26 481.04,490.92 484.03,444.52 487.02,437.77 490.01,429.19 493,440.15 495.99,443.62 498.98,436.15 501.97,446.9 504.96,454.28 507.95,455.17 510.94,464.08 513.93,462.34 516.92,460.2 519.9,462.01 522.89,459.59 525.88,452.21 528.87,472.99 531.86,470.65 534.85,470.02 537.84,468.46 540.83,461.04 543.82,459.56 546.81,467.41 549.8,481.52 552.79,484.69 555.78,480.74 558.77,474.23 561.76,477.8 564.75,475.76 567.74,500.96 570.73,491.98 573.72,487.71 576.71,490.98 579.69,474.19 582.68,465.27 585.67,474.69 588.66,488.04 591.65,493.03 594.64,497.57 597.63,496.52 600.62,494.8 603.61,499.31 606.6,497.5 609.59,499.48 612.58,510.99 615.57,521.81 618.56,526.78 621.55,501.57 624.54,499.81 627.53,503.03 630.52,503.61 633.51,500.25 636.5,500.93 639.48,493.14 642.47,498.87 645.46,505.63 648.45,486.62 651.44,482.76 654.43,494.35 657.42,492.58 660.41,487.68 663.4,492.74 666.39,484.18 669.38,471.08 672.37,459.29 675.36,458.61 678.35,461.13 681.34,459.57 684.33,456.54 687.32,449.48 690.31,439.71 693.3,436.13 696.29,433.83 699.27,432.47 702.26,428.23 705.25,427.95 708.24,432.43 711.23,449.51 714.22,445.98 717.21,444.97 720.2,444.24 723.19,439.25 726.18,448.72 729.17,449.61 732.16,449.29 735.15,465.99 738.14,490.37 741.13,498.51 744.12,490.87 747.11,474.09 750.1,484.25 753.09,479.71 756.08,467.05 759.06,462.38 762.05,452.8 765.04,453.95 768.03,457.45 771.02,444.87 774.01,440.74 777,458.1 779.99,466.57 782.98,467.86 785.97,465.47 788.96,478.48 791.95,492.88 794.94,481.5 797.93,487.82 800.92,464.9 803.91,468.28 806.9,467.9 809.89,491.28 812.88,481.53 815.87,486.37 818.85,485.92 821.84,494.26 824.83,492.23 827.82,491.2 830.81,496.58 833.8,492.81 836.79,489.32 839.78,498.07 842.77,496.87 845.76,499.59 848.75,496.39 851.74,495.58 854.73,494.72 857.72,489.46 860.71,487.16 863.7,472.71 866.69,477.46 869.68,481.84 872.67,490.17 875.66,492.26 878.64,484.02 881.63,485.14 884.62,495.59 887.61,493.03 890.6,496.68 893.59,514.86 893.59,459.01"/>
<polyline fill="none" stroke="#7E57C2" stroke-width="2.2" stroke-linejoin="round" points="8.7,457.89 11.69,458.13 14.68,466.47 17.67,469.96 20.66,457.01 23.65,463.71 26.64,453.46 29.63,454.71 32.62,453.8 35.61,483.8 38.59,490.84 41.58,477.77 44.57,475.26 47.56,474.11 50.55,478.15 53.54,472.31 56.53,470.65 59.52,480.36 62.51,501.82 65.5,515.08 68.49,509.41 71.48,516.63 74.47,519.92 77.46,507.05 80.45,502.93 83.44,502.93 86.43,513.29 89.42,513.64 92.41,505.95 95.4,510.16 98.39,508.87 101.37,511.51 104.36,507.62 107.35,496.29 110.34,488.03 113.33,484.13 116.32,487.08 119.31,482.57 122.3,507.45 125.29,511.68 128.28,518.11 131.27,513.81 134.26,511.67 137.25,513.3 140.24,521.84 143.23,512.5 146.22,494.06 149.21,504.07 152.2,492.07 155.19,503.33 158.17,509.25 161.16,503.72 164.15,500.34 167.14,507.15 170.13,498.57 173.12,501.37 176.11,499.16 179.1,506.2 182.09,510 185.08,518.22 188.07,512.42 191.06,500.79 194.05,497.17 197.04,510.1 200.03,523.37 203.02,521.76 206.01,529 209,524.29 211.99,529.02 214.98,532.24 217.97,530.46 220.95,530.96 223.94,526.7 226.93,530.64 229.92,514.82 232.91,519.28 235.9,513.55 238.89,515.98 241.88,518.83 244.87,509.54 247.86,514.82 250.85,509.85 253.84,507.4 256.83,514.21 259.82,501.34 262.81,497.97 265.8,520.84 268.79,522.22 271.78,531.01 274.77,532.48 277.75,536.01 280.74,536.91 283.73,506.86 286.72,526.4 289.71,524.52 292.7,518.19 295.69,520.63 298.68,523.68 301.67,517.49 304.66,527.17 307.65,534.03 310.64,528.24 313.63,529.08 316.62,531.29 319.61,526.02 322.6,524.17 325.59,526.92 328.58,522.36 331.57,523.87 334.56,507.09 337.55,512.77 340.53,514.96 343.52,509.94 346.51,508.64 349.5,501.13 352.49,503.91 355.48,508.37 358.47,508.37 361.46,518.58 364.45,524.72 367.44,526.04 370.43,523.5 373.42,511.69 376.41,521.68 379.4,517.68 382.39,518.69 385.38,518.69 388.37,536.99 391.36,538.78 394.35,543.89 397.33,515.23 400.32,525.78 403.31,520.59 406.3,512.51 409.29,515.97 412.28,512.14 415.27,515.41 418.26,516.86 421.25,513.83 424.24,514.38 427.23,511.06 430.22,514.17 433.21,514.81 436.2,491.36 439.19,487.61 442.18,491.39 445.17,488.37 448.16,484.24 451.15,488.69 454.14,487.55 457.12,489.96 460.11,491.79 463.1,483.14 466.09,480.08 469.08,485.54 472.07,490.33 475.06,487.47 478.05,489.26 481.04,490.92 484.03,444.52 487.02,437.77 490.01,429.19 493,440.15 495.99,443.62 498.98,436.15 501.97,446.9 504.96,454.28 507.95,455.17 510.94,464.08 513.93,462.34 516.92,460.2 519.9,462.01 522.89,459.59 525.88,452.21 528.87,472.99 531.86,470.65 534.85,470.02 537.84,468.46 540.83,461.04 543.82,459.56 546.81,467.41 549.8,481.52 552.79,484.69 555.78,480.74 558.77,474.23 561.76,477.8 564.75,475.76 567.74,500.96 570.73,491.98 573.72,487.71 576.71,490.98 579.69,474.19 582.68,465.27 585.67,474.69 588.66,488.04 591.65,493.03 594.64,497.57 597.63,496.52 600.62,494.8 603.61,499.31 606.6,497.5 609.59,499.48 612.58,510.99 615.57,521.81 618.56,526.78 621.55,501.57 624.54,499.81 627.53,503.03 630.52,503.61 633.51,500.25 636.5,500.93 639.48,493.14 642.47,498.87 645.46,505.63 648.45,486.62 651.44,482.76 654.43,494.35 657.42,492.58 660.41,487.68 663.4,492.74 666.39,484.18 669.38,471.08 672.37,459.29 675.36,458.61 678.35,461.13 681.34,459.57 684.33,456.54 687.32,449.48 690.31,439.71 693.3,436.13 696.29,433.83 699.27,432.47 702.26,428.23 705.25,427.95 708.24,432.43 711.23,449.51 714.22,445.98 717.21,444.97 720.2,444.24 723.19,439.25 726.18,448.72 729.17,449.61 732.16,449.29 735.15,465.99 738.14,490.37 741.13,498.51 744.12,490.87 747.11,474.09 750.1,484.25 753.09,479.71 756.08,467.05 759.06,462.38 762.05,452.8 765.04,453.95 768.03,457.45 771.02,444.87 774.01,440.74 777,458.1 779.99,466.57 782.98,467.86 785.97,465.47 788.96,478.48 791.95,492.88 794.94,481.5 797.93,487.82 800.92,464.9 803.91,468.28 806.9,467.9 809.89,491.28 812.88,481.53 815.87,486.37 818.85,485.92 821.84,494.26 824.83,492.23 827.82,491.2 830.81,496.58 833.8,492.81 836.79,489.32 839.78,498.07 842.77,496.87 845.76,499.59 848.75,496.39 851.74,495.58 854.73,494.72 857.72,489.46 860.71,487.16 863.7,472.71 866.69,477.46 869.68,481.84 872.67,490.17 875.66,492.26 878.64,484.02 881.63,485.14 884.62,495.59 887.61,493.03 890.6,496.68 893.59,514.86"/>
</g>
<g font-family='"Liberation Sans", sans-serif'>
<text x="8" y="14.4" font-size="9.6" fill="#131722" stroke="#131722" stroke-width="0.15" text-anchor="start" font-weight="normal" textLength="270" lengthAdjust="spacingAndGlyphs">ranadagger created with TradingView.com, Sep 22, 2025 15:12 UTC</text>
<text x="13.7" y="34.1" font-size="9.5" fill="#131722" stroke="#131722" stroke-width="0.15" text-anchor="start" font-weight="normal" textLength="143.3" lengthAdjust="spacingAndGlyphs">Ethereum / TetherUS · 1D · Binance</text>
<text x="163.7" y="34.1" font-size="9.5" fill="#131722" stroke="#131722" stroke-width="0.15" text-anchor="start" font-weight="normal" textLength="5.6" lengthAdjust="spacingAndGlyphs">O</text>
<text x="169.8" y="34.1" font-size="9.5" fill="#F23645" stroke="#F23645" stroke-width="0.15" text-anchor="start" font-weight="normal" textLength="34.2" lengthAdjust="spacingAndGlyphs">4,444.98</text>
<text x="209.3" y="34.1" font-size="9.5" fill="#131722" stroke="#131722" stroke-width="0.15" text-anchor="start" font-weight="normal" textLength="5.6" lengthAdjust="spacingAndGlyphs">H</text>
<text x="215.9" y="34.1" font-size="9.5" fill="#F23645" stroke="#F23645" stroke-width="0.15" text-anchor="start" font-weight="normal" textLength="34.3" lengthAdjust="spacingAndGlyphs">4,455.76</text>
<text x="256" y="34.1" font-size="9.5" fill="#131722" stroke="#131722" stroke-width="0.15" text-anchor="start" font-weight="normal" textLength="4.3" lengthAdjust="spacingAndGlyphs">L</text>
<text x="260.7" y="34.1" font-size="9.5" fill="#F23645" stroke="#F23645" stroke-width="0.15" text-anchor="start" font-weight="normal" textLength="34.3" lengthAdjust="spacingAndGlyphs">4,077.00</text>
<text x="300.8" y="34.1" font-size="9.5" fill="#131722" stroke="#131722" stroke-width="0.15" text-anchor="start" font-weight="normal" textLength="5.0" lengthAdjust="spacingAndGlyphs">C</text>
<text x="306" y="34.1" font-size="9.5" fill="#F23645" stroke="#F23645" stroke-width="0.15" text-anchor="start" font-weight="normal" textLength="34.3" lengthAdjust="spacingAndGlyphs">4,178.07</text>
<text x="346.4" y="34.1" font-size="9.5" fill="#F23645" stroke="#F23645" stroke-width="0.15" text-anchor="start" font-weight="normal" textLength="67.8" lengthAdjust="spacingAndGlyphs">−266.90 (−6.00%)</text>
<text x="13.7" y="46.9" font-size="9.5" fill="#131722" stroke="#131722" stroke-width="0.15" text-anchor="start" font-weight="normal" textLength="62" lengthAdjust="spacingAndGlyphs">EMA (20, close)</text>
<text x="80.6" y="46.9" font-size="9.5" fill="#2962FF" stroke="#2962FF" stroke-width="0.15" text-anchor="start" font-weight="normal" textLength="35" lengthAdjust="spacingAndGlyphs">4,442.85</text>
<text x="13.7" y="59.8" font-size="9.5" fill="#131722" stroke="#131722" stroke-width="0.15" text-anchor="start" font-weight="normal" textLength="62" lengthAdjust="spacingAndGlyphs">SMA (50, close)</text>
<text x="80.6" y="59.8" font-size="9.5" fill="#F23645" stroke="#F23645" stroke-width="0.15" text-anchor="start" font-weight="normal" textLength="35" lengthAdjust="spacingAndGlyphs">4,376.22</text>
<text x="13.4" y="433.3" font-size="9.5" fill="#131722" stroke="#131722" stroke-width="0.15" text-anchor="start" font-weight="normal" textLength="58" lengthAdjust="spacingAndGlyphs">RSI (14, close)</text>
<text x="75.9" y="433.3" font-size="9.5" fill="#7E57C2" stroke="#7E57C2" stroke-width="0.15" text-anchor="start" font-weight="normal" textLength="21.5" lengthAdjust="spacingAndGlyphs">39.71</text>
<text x="103.4" y="433.3" font-size="9.5" fill="#F7C531" stroke="#F7C531" stroke-width="0.15" text-anchor="start" font-weight="normal" textLength="21.5" lengthAdjust="spacingAndGlyphs">54.36</text>
<text x="974" y="63.05" font-size="9.5" fill="#131722" stroke="#131722" stroke-width="0.15" text-anchor="start" font-weight="normal" textLength="34.5" lengthAdjust="spacingAndGlyphs">4,750.00</text>
<text x="974" y="113.12" font-size="9.5" fill="#131722" stroke="#131722" stroke-width="0.15" text-anchor="start" font-weight="normal" textLength="34.5" lengthAdjust="spacingAndGlyphs">4,250.00</text>
<text x="974" y="188.22" font-size="9.5" fill="#131722" stroke="#131722" stroke-width="0.15" text-anchor="start" font-weight="normal" textLength="34.5" lengthAdjust="spacingAndGlyphs">3,500.00</text>
<text x="974" y="213.26" font-size="9.5" fill="#131722" stroke="#131722" stroke-width="0.15" text-anchor="start" font-weight="normal" textLength="34.5" lengthAdjust="spacingAndGlyphs">3,250.00</text>
<text x="974" y="238.29" font-size="9.5" fill="#131722" stroke="#131722" stroke-width="0.15" text-anchor="start" font-weight="normal" textLength="34.5" lengthAdjust="spacingAndGlyphs">3,000.00</text>
<text x="974" y="288.37" font-size="9.5" fill="#131722" stroke="#131722" stroke-width="0.15" text-anchor="start" font-weight="normal" textLength="34.5" lengthAdjust="spacingAndGlyphs">2,500.00</text>
<text x="974" y="313.4" font-size="9.5" fill="#131722" stroke="#131722" stroke-width="0.15" text-anchor="start" font-weight="normal" textLength="34.5" lengthAdjust="spacingAndGlyphs">2,250.00</text>
<text x="974" y="338.43" font-size="9.5" fill="#131722" stroke="#131722" stroke-width="0.15" text-anchor="start" font-weight="normal" textLength="34.5" lengthAdjust="spacingAndGlyphs">2,000.00</text>
<text x="974" y="363.47" font-size="9.5" fill="#131722" stroke="#131722" stroke-width="0.15" text-anchor="start" font-weight="normal" textLength="34.5" lengthAdjust="spacingAndGlyphs">1,750.00</text>
<text x="974" y="388.5" font-size="9.5" fill="#131722" stroke="#131722" stroke-width="0.15" text-anchor="start" font-weight="normal" textLength="34.5" lengthAdjust="spacingAndGlyphs">1,500.00</text>
<text x="974" y="413.54" font-size="9.5" fill="#131722" stroke="#131722" stroke-width="0.15" text-anchor="start" font-weight="normal" textLength="34.5" lengthAdjust="spacingAndGlyphs">1,250.00</text>
<text x="973.7" y="442.7" font-size="9.5" fill="#131722" stroke="#131722" stroke-width="0.15" text-anchor="start" font-weight="normal" textLength="22.3" lengthAdjust="spacingAndGlyphs">80.00</text>
<text x="973.7" y="480.6" font-size="9.5" fill="#131722" stroke="#131722" stroke-width="0.15" text-anchor="start" font-weight="normal" textLength="22.3" lengthAdjust="spacingAndGlyphs">60.00</text>
<text x="104" y="565.8" font-size="9.5" fill="#131722" stroke="#131722" stroke-width="0.15" text-anchor="middle" font-weight="bold">2025</text>
<text x="197.5" y="565.8" font-size="9.5" fill="#131722" stroke="#131722" stroke-width="0.15" text-anchor="middle" font-weight="normal">Feb</text>
<text x="281" y="565.8" font-size="9.5" fill="#131722" stroke="#131722" stroke-width="0.15" text-anchor="middle" font-weight="normal">Mar</text>
<text x="374" y="565.8" font-size="9.5" fill="#131722" stroke="#131722" stroke-width="0.15" text-anchor="middle" font-weight="normal">Apr</text>
<text x="463" y="565.8" font-size="9.5" fill="#131722" stroke="#131722" stroke-width="0.15" text-anchor="middle" font-weight="normal">May</text>
<text x="555.5" y="565.8" font-size="9.5" fill="#131722" stroke="#131722" stroke-width="0.15" text-anchor="middle" font-weight="normal">Jun</text>
<text x="645.5" y="565.8" font-size="9.5" fill="#131722" stroke="#131722" stroke-width="0.15" text-anchor="middle" font-weight="normal">Jul</text>
<text x="738.5" y="565.8" font-size="9.5" fill="#131722" stroke="#131722" stroke-width="0.15" text-anchor="middle" font-weight="normal">Aug</text>
<text x="831" y="565.8" font-size="9.5" fill="#131722" stroke="#131722" stroke-width="0.15" text-anchor="middle" font-weight="normal">Sep</text>
<text x="920.5" y="565.8" font-size="9.5" fill="#131722" stroke="#131722" stroke-width="0.15" text-anchor="middle" font-weight="normal">Oct</text>
<g clip-path="url(#ct)">
<text x="11.3" y="565.8" font-size="9.5" fill="#131722" text-anchor="middle">Dec</text>
</g>
<rect x="970" y="23.5" width="43" height="19.2" rx="3" fill="#fff" stroke="#ececef" stroke-width="1"/>
<text x="976.3" y="36.2" font-size="9.5" fill="#131722" fill-opacity="1" stroke="#131722" stroke-opacity="1" stroke-width="0.15" text-anchor="start" textLength="21.3" lengthAdjust="spacingAndGlyphs">USDT</text>
<path d="M946.1,79.5 H967.6 H967.6 V91.5 H946.1 Q944.1,91.5 944.1,89.5 V81.5 Q944.1,79.5 946.1,79.5 Z" fill="#2962FF" fill-opacity="1"/>
<path d="M967.6,79.5 H1010.9 Q1012.9,79.5 1012.9,81.5 V89.5 Q1012.9,91.5 1010.9,91.5 H967.6 H967.6 V79.5 Z" fill="#2962FF" fill-opacity="1"/>
<text x="955.8" y="88.3" font-size="9.5" fill="#fff" fill-opacity="1" stroke="#fff" stroke-opacity="1" stroke-width="0.15" text-anchor="middle" textLength="19" lengthAdjust="spacingAndGlyphs">EMA</text>
<text x="974" y="88.3" font-size="9.5" fill="#fff" fill-opacity="1" stroke="#fff" stroke-opacity="1" stroke-width="0.15" text-anchor="start" textLength="34.5" lengthAdjust="spacingAndGlyphs">4,442.85</text>
<path d="M931.9,92.3 H967.6 H967.6 V104.4 H931.9 Q929.9,104.4 929.9,102.4 V94.3 Q929.9,92.3 931.9,92.3 Z" fill="#F23645" fill-opacity="1"/>
<path d="M967.6,92.3 H1010.9 Q1012.9,92.3 1012.9,94.3 V102.4 Q1012.9,104.4 1010.9,104.4 H967.6 H967.6 V92.3 Z" fill="#F23645" fill-opacity="1"/>
<text x="948.7" y="101.1" font-size="9.5" fill="#fff" fill-opacity="1" stroke="#fff" stroke-opacity="1" stroke-width="0.15" text-anchor="middle" textLength="34" lengthAdjust="spacingAndGlyphs">SMA:MA</text>
<text x="974" y="101.1" font-size="9.5" fill="#fff" fill-opacity="1" stroke="#fff" stroke-opacity="1" stroke-width="0.15" text-anchor="start" textLength="34.5" lengthAdjust="spacingAndGlyphs">4,376.22</text>
<path d="M925.9,112.2 H967.6 H967.6 V124.4 H925.9 Q923.9,124.4 923.9,122.4 V114.2 Q923.9,112.2 925.9,112.2 Z" fill="#EF5350" fill-opacity="1"/>
<path d="M967.6,112.2 H1010.9 Q1012.9,112.2 1012.9,114.2 V143.4 Q1012.9,145.4 1010.9,145.4 H967.6 H967.6 V112.2 Z" fill="#EF5350" fill-opacity="1"/>
<text x="945.7" y="120.8" font-size="9.5" fill="#fff" fill-opacity="1" stroke="#fff" stroke-opacity="1" stroke-width="0.15" text-anchor="middle" textLength="41" lengthAdjust="spacingAndGlyphs">ETHUSDT</text>
<text x="974" y="120.8" font-size="9.5" fill="#fff" fill-opacity="1" stroke="#fff" stroke-opacity="1" stroke-width="0.15" text-anchor="start" textLength="34.5" lengthAdjust="spacingAndGlyphs">4,178.07</text>
<text x="974" y="131.7" font-size="9.5" fill="#fff" fill-opacity="1" stroke="#fff" stroke-opacity="1" stroke-width="0.15" text-anchor="start" textLength="33" lengthAdjust="spacingAndGlyphs">+16.31%</text>
<text x="974" y="141.7" font-size="9.5" fill="#fff" fill-opacity="0.75" stroke="#fff" stroke-opacity="0.75" stroke-width="0.15" text-anchor="start" textLength="34.5" lengthAdjust="spacingAndGlyphs">08:47:53</text>
<path d="M967.6,145.9 H1010.9 Q1012.9,145.9 1012.9,147.9 V168.8 Q1012.9,170.8 1010.9,170.8 H967.6 H967.6 V145.9 Z" fill="#0000FF" fill-opacity="1"/>
<text x="974" y="154.7" font-size="9.5" fill="#fff" fill-opacity="1" stroke="#fff" stroke-opacity="1" stroke-width="0.15" text-anchor="start" textLength="34.5" lengthAdjust="spacingAndGlyphs">4,060.00</text>
<text x="974" y="167.0" font-size="9.5" fill="#fff" fill-opacity="1" stroke="#fff" stroke-opacity="1" stroke-width="0.15" text-anchor="start" textLength="34.5" lengthAdjust="spacingAndGlyphs">3,745.00</text>
<path d="M967.6,242.3 H1010.9 Q1012.9,242.3 1012.9,244.3 V252.6 Q1012.9,254.6 1010.9,254.6 H967.6 H967.6 V242.3 Z" fill="#0000FF" fill-opacity="1"/>
<path d="M967.6,255.9 H1010.9 Q1012.9,255.9 1012.9,257.9 V266.3 Q1012.9,268.3 1010.9,268.3 H967.6 H967.6 V255.9 Z" fill="#0000FF" fill-opacity="1"/>
<text x="974" y="251.2" font-size="9.5" fill="#fff" fill-opacity="1" stroke="#fff" stroke-opacity="1" stroke-width="0.15" text-anchor="start" textLength="34.5" lengthAdjust="spacingAndGlyphs">2,879.00</text>
<text x="974" y="264.4" font-size="9.5" fill="#fff" fill-opacity="1" stroke="#fff" stroke-opacity="1" stroke-width="0.15" text-anchor="start" textLength="34.5" lengthAdjust="spacingAndGlyphs">2,738.50</text>
<path d="M910.2,482.6 H967.6 H967.6 V495.2 H910.2 Q908.2,495.2 908.2,493.2 V484.6 Q908.2,482.6 910.2,482.6 Z" fill="#F9CB35" fill-opacity="1"/>
<path d="M967.6,482.6 H998 Q1000,482.6 1000,484.6 V493.2 Q1000,495.2 998,495.2 H967.6 H967.6 V482.6 Z" fill="#F9CB35" fill-opacity="1"/>
<text x="937.9" y="491.7" font-size="9.5" fill="#131722" fill-opacity="1" stroke="#131722" stroke-opacity="1" stroke-width="0.15" text-anchor="middle" textLength="56" lengthAdjust="spacingAndGlyphs">RSI-based MA</text>
<text x="974.3" y="491.7" font-size="9.5" fill="#131722" fill-opacity="1" stroke="#131722" stroke-opacity="1" stroke-width="0.15" text-anchor="start" textLength="22" lengthAdjust="spacingAndGlyphs">54.36</text>
<path d="M950.4,510.3 H967.6 H967.6 V523 H950.4 Q948.4,523 948.4,521 V512.3 Q948.4,510.3 950.4,510.3 Z" fill="#7E57C2" fill-opacity="1"/>
<path d="M967.6,510.3 H998 Q1000,510.3 1000,512.3 V521 Q1000,523 998,523 H967.6 H967.6 V510.3 Z" fill="#7E57C2" fill-opacity="1"/>
<text x="958" y="519.5" font-size="9.5" fill="#fff" fill-opacity="1" stroke="#fff" stroke-opacity="1" stroke-width="0.15" text-anchor="middle" textLength="14" lengthAdjust="spacingAndGlyphs">RSI</text>
<text x="974.3" y="519.5" font-size="9.5" fill="#fff" fill-opacity="1" stroke="#fff" stroke-opacity="1" stroke-width="0.15" text-anchor="start" textLength="22" lengthAdjust="spacingAndGlyphs">39.71</text>
<circle cx="893.3" cy="408.7" r="7.5" fill="#fff" stroke="#8a42b8" stroke-width="1.5" stroke-dasharray="37.9 6.6"/>
<path d="M895.3,404.3 L890.6,409.6 L893.2,409.6 L891.4,413.1 L896.2,407.8 L893.6,407.8 Z" fill="#8e3fb0"/>
<circle cx="898.4" cy="403.7" r="2" fill="#F23645"/>
<path d="M8.9,589.3 H18 V600.8 H13.4 V594 H8.9 Z" fill="#131722"/>
<circle cx="20.9" cy="591.6" r="2.3" fill="#131722"/>
<path d="M24.6,589.3 H30.8 L26,600.8 H20.2 Z" fill="#131722"/>
<text x="36.9" y="600.5" font-size="15" font-weight="bold" fill="#131722" textLength="89.6" lengthAdjust="spacingAndGlyphs">TradingView</text>
</g>
</svg>
</body></html>
